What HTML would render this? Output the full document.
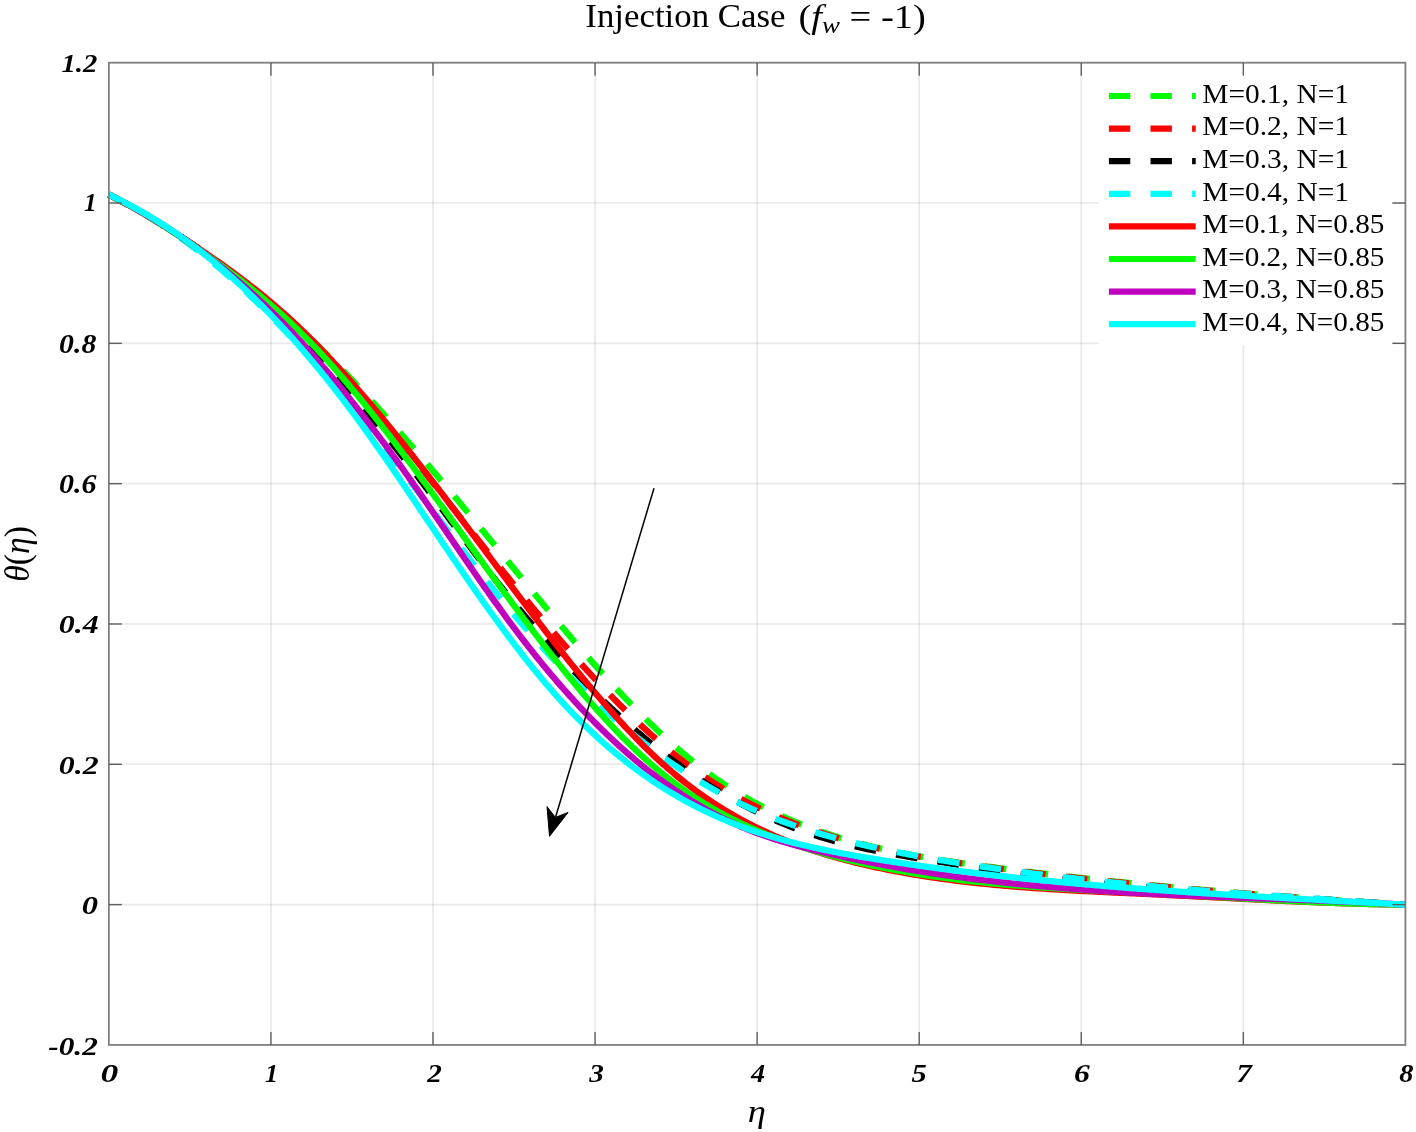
<!DOCTYPE html><html><head><meta charset="utf-8"><title>Injection Case</title><style>html,body{margin:0;padding:0;background:#fff;overflow:hidden;}svg{display:block;}.tk{font-family:"Liberation Serif",serif;font-weight:bold;font-style:italic;font-size:24px;fill:#000;}.lg{font-family:"Liberation Serif",serif;font-size:27px;fill:#000;}.ttl{font-family:"Liberation Serif",serif;font-size:33px;fill:#000;}</style></head><body>
<svg width="1416" height="1132" viewBox="0 0 1416 1132">
<rect x="0" y="0" width="1416" height="1132" fill="#fff"/>
<g id="grid" stroke="#000" stroke-opacity="0.09" stroke-width="1.6"><line x1="270.92" y1="62.70" x2="270.92" y2="1044.94"/><line x1="432.99" y1="62.70" x2="432.99" y2="1044.94"/><line x1="595.06" y1="62.70" x2="595.06" y2="1044.94"/><line x1="757.13" y1="62.70" x2="757.13" y2="1044.94"/><line x1="919.20" y1="62.70" x2="919.20" y2="1044.94"/><line x1="1081.27" y1="62.70" x2="1081.27" y2="1044.94"/><line x1="1243.34" y1="62.70" x2="1243.34" y2="1044.94"/><line x1="108.85" y1="203.02" x2="1405.41" y2="203.02"/><line x1="108.85" y1="343.34" x2="1405.41" y2="343.34"/><line x1="108.85" y1="483.66" x2="1405.41" y2="483.66"/><line x1="108.85" y1="623.98" x2="1405.41" y2="623.98"/><line x1="108.85" y1="764.30" x2="1405.41" y2="764.30"/><line x1="108.85" y1="904.62" x2="1405.41" y2="904.62"/></g>
<g id="curves"><path d="M108.85,194.60 L111.01,195.72 L113.18,196.86 L115.34,198.00 L117.51,199.15 L119.67,200.31 L121.84,201.48 L124.00,202.65 L126.17,203.84 L128.33,205.03 L130.50,206.23 L132.66,207.44 L134.82,208.66 L136.99,209.88 L139.15,211.12 L141.32,212.36 L143.48,213.61 L145.65,214.87 L147.81,216.14 L149.98,217.42 L152.14,218.70 L154.31,220.00 L156.47,221.30 L158.63,222.61 L160.80,223.93 L162.96,225.26 L165.13,226.60 L167.29,227.94 L169.46,229.30 L171.62,230.66 L173.79,232.03 L175.95,233.41 L178.12,234.80 L180.28,236.20 L182.44,237.61 L184.61,239.03 L186.77,240.45 L188.94,241.88 L191.10,243.33 L193.27,244.78 L195.43,246.24 L197.60,247.71 L199.76,249.19 L201.93,250.68 L204.09,252.17 L206.25,253.68 L208.42,255.20 L210.58,256.72 L212.75,258.26 L214.91,259.80 L217.08,261.36 L219.24,262.92 L221.41,264.50 L223.57,266.08 L225.74,267.68 L227.90,269.28 L230.06,270.90 L232.23,272.52 L234.39,274.15 L236.56,275.80 L238.72,277.45 L240.89,279.12 L243.05,280.80 L245.22,282.48 L247.38,284.18 L249.55,285.89 L251.71,287.61 L253.87,289.34 L256.04,291.08 L258.20,292.83 L260.37,294.59 L262.53,296.37 L264.70,298.15 L266.86,299.95 L269.03,301.75 L271.19,303.57 L273.36,305.40 L275.52,307.24 L277.68,309.10 L279.85,310.96 L282.01,312.84 L284.18,314.73 L286.34,316.62 L288.51,318.54 L290.67,320.46 L292.84,322.40 L295.00,324.34 L297.17,326.30 L299.33,328.27 L301.49,330.26 L303.66,332.26 L305.82,334.26 L307.99,336.29 L310.15,338.32 L312.32,340.37 L314.48,342.42 L316.65,344.50 L318.81,346.58 L320.98,348.68 L323.14,350.79 L325.30,352.91 L327.47,355.04 L329.63,357.19 L331.80,359.35 L333.96,361.51 L336.13,363.69 L338.29,365.89 L340.46,368.09 L342.62,370.30 L344.78,372.53 L346.95,374.77 L349.11,377.01 L351.28,379.27 L353.44,381.54 L355.61,383.81 L357.77,386.10 L359.94,388.40 L362.10,390.71 L364.27,393.03 L366.43,395.35 L368.59,397.69 L370.76,400.04 L372.92,402.39 L375.09,404.75 L377.25,407.13 L379.42,409.51 L381.58,411.90 L383.75,414.30 L385.91,416.70 L388.08,419.12 L390.24,421.54 L392.40,423.97 L394.57,426.41 L396.73,428.86 L398.90,431.31 L401.06,433.77 L403.23,436.24 L405.39,438.71 L407.56,441.20 L409.72,443.69 L411.89,446.18 L414.05,448.68 L416.21,451.19 L418.38,453.70 L420.54,456.23 L422.71,458.75 L424.87,461.28 L427.04,463.82 L429.20,466.36 L431.37,468.91 L433.53,471.47 L435.70,474.03 L437.86,476.59 L440.02,479.16 L442.19,481.73 L444.35,484.31 L446.52,486.89 L448.68,489.48 L450.85,492.07 L453.01,494.66 L455.18,497.26 L457.34,499.86 L459.51,502.47 L461.67,505.07 L463.83,507.69 L466.00,510.30 L468.16,512.92 L470.33,515.54 L472.49,518.16 L474.66,520.79 L476.82,523.42 L478.99,526.05 L481.15,528.68 L483.32,531.32 L485.48,533.95 L487.64,536.59 L489.81,539.23 L491.97,541.87 L494.14,544.51 L496.30,547.16 L498.47,549.80 L500.63,552.45 L502.80,555.09 L504.96,557.74 L507.13,560.39 L509.29,563.03 L511.45,565.68 L513.62,568.33 L515.78,570.97 L517.95,573.62 L520.11,576.26 L522.28,578.90 L524.44,581.54 L526.61,584.18 L528.77,586.82 L530.94,589.45 L533.10,592.08 L535.26,594.71 L537.43,597.33 L539.59,599.95 L541.76,602.57 L543.92,605.18 L546.09,607.79 L548.25,610.40 L550.42,613.00 L552.58,615.59 L554.75,618.18 L556.91,620.77 L559.07,623.35 L561.24,625.92 L563.40,628.49 L565.57,631.05 L567.73,633.60 L569.90,636.15 L572.06,638.68 L574.23,641.22 L576.39,643.74 L578.56,646.26 L580.72,648.76 L582.88,651.26 L585.05,653.76 L587.21,656.24 L589.38,658.71 L591.54,661.17 L593.71,663.63 L595.87,666.07 L598.04,668.50 L600.20,670.93 L602.37,673.34 L604.53,675.74 L606.69,678.13 L608.86,680.51 L611.02,682.88 L613.19,685.23 L615.35,687.58 L617.52,689.91 L619.68,692.23 L621.85,694.53 L624.01,696.82 L626.18,699.10 L628.34,701.37 L630.50,703.62 L632.67,705.86 L634.83,708.08 L637.00,710.29 L639.16,712.48 L641.33,714.66 L643.49,716.82 L645.66,718.97 L647.82,721.10 L649.99,723.21 L652.15,725.31 L654.31,727.39 L656.48,729.46 L658.64,731.51 L660.81,733.54 L662.97,735.55 L665.14,737.55 L667.30,739.52 L669.47,741.48 L671.63,743.42 L673.80,745.34 L675.96,747.25 L678.12,749.13 L680.29,750.99 L682.45,752.83 L684.62,754.66 L686.78,756.46 L688.95,758.24 L691.11,760.00 L693.28,761.74 L695.44,763.46 L697.61,765.16 L699.77,766.84 L701.93,768.49 L704.10,770.12 L706.26,771.73 L708.43,773.32 L710.59,774.89 L712.76,776.44 L714.92,777.97 L717.09,779.48 L719.25,780.96 L721.42,782.43 L723.58,783.88 L725.74,785.31 L727.91,786.71 L730.07,788.10 L732.24,789.47 L734.40,790.83 L736.57,792.16 L738.73,793.47 L740.90,794.77 L743.06,796.05 L745.23,797.31 L747.39,798.55 L749.55,799.77 L751.72,800.98 L753.88,802.17 L756.05,803.35 L758.21,804.50 L760.38,805.64 L762.54,806.77 L764.71,807.88 L766.87,808.97 L769.03,810.04 L771.20,811.11 L773.36,812.15 L775.53,813.18 L777.69,814.20 L779.86,815.20 L782.02,816.18 L784.19,817.15 L786.35,818.11 L788.52,819.05 L790.68,819.98 L792.84,820.90 L795.01,821.80 L797.17,822.69 L799.34,823.56 L801.50,824.43 L803.67,825.28 L805.83,826.11 L808.00,826.94 L810.16,827.75 L812.33,828.55 L814.49,829.34 L816.65,830.12 L818.82,830.89 L820.98,831.64 L823.15,832.39 L825.31,833.12 L827.48,833.84 L829.64,834.55 L831.81,835.26 L833.97,835.95 L836.14,836.63 L838.30,837.30 L840.46,837.96 L842.63,838.61 L844.79,839.25 L846.96,839.89 L849.12,840.51 L851.29,841.12 L853.45,841.73 L855.62,842.32 L857.78,842.91 L859.95,843.49 L862.11,844.05 L864.27,844.61 L866.44,845.17 L868.60,845.71 L870.77,846.25 L872.93,846.77 L875.10,847.29 L877.26,847.80 L879.43,848.31 L881.59,848.80 L883.76,849.29 L885.92,849.78 L888.08,850.25 L890.25,850.72 L892.41,851.18 L894.58,851.63 L896.74,852.08 L898.91,852.52 L901.07,852.96 L903.24,853.39 L905.40,853.81 L907.57,854.22 L909.73,854.64 L911.89,855.04 L914.06,855.44 L916.22,855.83 L918.39,856.22 L920.55,856.61 L922.72,856.98 L924.88,857.36 L927.05,857.73 L929.21,858.09 L931.38,858.45 L933.54,858.80 L935.70,859.15 L937.87,859.50 L940.03,859.84 L942.20,860.18 L944.36,860.52 L946.53,860.85 L948.69,861.17 L950.86,861.50 L953.02,861.82 L955.19,862.14 L957.35,862.45 L959.51,862.76 L961.68,863.07 L963.84,863.38 L966.01,863.68 L968.17,863.98 L970.34,864.28 L972.50,864.58 L974.67,864.87 L976.83,865.16 L979.00,865.46 L981.16,865.75 L983.32,866.03 L985.49,866.32 L987.65,866.61 L989.82,866.89 L991.98,867.17 L994.15,867.45 L996.31,867.74 L998.48,868.02 L1000.64,868.29 L1002.81,868.57 L1004.97,868.85 L1007.13,869.12 L1009.30,869.40 L1011.46,869.67 L1013.63,869.94 L1015.79,870.21 L1017.96,870.48 L1020.12,870.75 L1022.29,871.02 L1024.45,871.29 L1026.62,871.55 L1028.78,871.82 L1030.94,872.08 L1033.11,872.34 L1035.27,872.60 L1037.44,872.86 L1039.60,873.12 L1041.77,873.38 L1043.93,873.64 L1046.10,873.89 L1048.26,874.15 L1050.43,874.40 L1052.59,874.66 L1054.75,874.91 L1056.92,875.16 L1059.08,875.41 L1061.25,875.66 L1063.41,875.90 L1065.58,876.15 L1067.74,876.40 L1069.91,876.64 L1072.07,876.89 L1074.24,877.13 L1076.40,877.37 L1078.56,877.61 L1080.73,877.85 L1082.89,878.09 L1085.06,878.33 L1087.22,878.56 L1089.39,878.80 L1091.55,879.03 L1093.72,879.27 L1095.88,879.50 L1098.05,879.73 L1100.21,879.96 L1102.37,880.19 L1104.54,880.42 L1106.70,880.65 L1108.87,880.88 L1111.03,881.11 L1113.20,881.33 L1115.36,881.55 L1117.53,881.78 L1119.69,882.00 L1121.86,882.22 L1124.02,882.44 L1126.18,882.66 L1128.35,882.88 L1130.51,883.10 L1132.68,883.32 L1134.84,883.53 L1137.01,883.75 L1139.17,883.96 L1141.34,884.18 L1143.50,884.39 L1145.67,884.60 L1147.83,884.81 L1149.99,885.02 L1152.16,885.23 L1154.32,885.44 L1156.49,885.65 L1158.65,885.85 L1160.82,886.06 L1162.98,886.26 L1165.15,886.47 L1167.31,886.67 L1169.48,886.87 L1171.64,887.07 L1173.80,887.27 L1175.97,887.47 L1178.13,887.67 L1180.30,887.87 L1182.46,888.07 L1184.63,888.26 L1186.79,888.46 L1188.96,888.65 L1191.12,888.85 L1193.28,889.04 L1195.45,889.23 L1197.61,889.43 L1199.78,889.62 L1201.94,889.81 L1204.11,890.00 L1206.27,890.18 L1208.44,890.37 L1210.60,890.56 L1212.77,890.74 L1214.93,890.93 L1217.09,891.11 L1219.26,891.30 L1221.42,891.48 L1223.59,891.66 L1225.75,891.84 L1227.92,892.03 L1230.08,892.21 L1232.25,892.38 L1234.41,892.56 L1236.58,892.74 L1238.74,892.92 L1240.90,893.09 L1243.07,893.27 L1245.23,893.44 L1247.40,893.62 L1249.56,893.79 L1251.73,893.96 L1253.89,894.14 L1256.06,894.31 L1258.22,894.48 L1260.39,894.65 L1262.55,894.82 L1264.71,894.99 L1266.88,895.15 L1269.04,895.32 L1271.21,895.49 L1273.37,895.65 L1275.54,895.82 L1277.70,895.98 L1279.87,896.15 L1282.03,896.31 L1284.20,896.47 L1286.36,896.63 L1288.52,896.79 L1290.69,896.96 L1292.85,897.11 L1295.02,897.27 L1297.18,897.43 L1299.35,897.59 L1301.51,897.75 L1303.68,897.90 L1305.84,898.06 L1308.01,898.22 L1310.17,898.37 L1312.33,898.52 L1314.50,898.68 L1316.66,898.83 L1318.83,898.98 L1320.99,899.14 L1323.16,899.29 L1325.32,899.44 L1327.49,899.59 L1329.65,899.74 L1331.82,899.88 L1333.98,900.03 L1336.14,900.18 L1338.31,900.33 L1340.47,900.47 L1342.64,900.62 L1344.80,900.77 L1346.97,900.91 L1349.13,901.05 L1351.30,901.20 L1353.46,901.34 L1355.63,901.48 L1357.79,901.63 L1359.95,901.77 L1362.12,901.91 L1364.28,902.05 L1366.45,902.19 L1368.61,902.33 L1370.78,902.47 L1372.94,902.60 L1375.11,902.74 L1377.27,902.88 L1379.44,903.02 L1381.60,903.15 L1383.76,903.29 L1385.93,903.42 L1388.09,903.56 L1390.26,903.69 L1392.42,903.83 L1394.59,903.96 L1396.75,904.09 L1398.92,904.23 L1401.08,904.36 L1403.25,904.49 L1405.41,904.62" fill="none" stroke="#00ff00" stroke-width="6.3" stroke-linejoin="round" stroke-dasharray="21.7 20.3"/><path d="M108.85,194.60 L111.01,195.76 L113.18,196.92 L115.34,198.09 L117.51,199.26 L119.67,200.44 L121.84,201.62 L124.00,202.81 L126.17,204.01 L128.33,205.21 L130.50,206.42 L132.66,207.64 L134.82,208.86 L136.99,210.09 L139.15,211.32 L141.32,212.56 L143.48,213.81 L145.65,215.06 L147.81,216.33 L149.98,217.60 L152.14,218.87 L154.31,220.16 L156.47,221.45 L158.63,222.75 L160.80,224.06 L162.96,225.37 L165.13,226.70 L167.29,228.03 L169.46,229.37 L171.62,230.72 L173.79,232.07 L175.95,233.44 L178.12,234.81 L180.28,236.20 L182.44,237.59 L184.61,238.99 L186.77,240.40 L188.94,241.83 L191.10,243.26 L193.27,244.70 L195.43,246.15 L197.60,247.61 L199.76,249.08 L201.93,250.56 L204.09,252.05 L206.25,253.55 L208.42,255.06 L210.58,256.58 L212.75,258.12 L214.91,259.66 L217.08,261.22 L219.24,262.79 L221.41,264.36 L223.57,265.95 L225.74,267.55 L227.90,269.17 L230.06,270.79 L232.23,272.43 L234.39,274.08 L236.56,275.74 L238.72,277.41 L240.89,279.10 L243.05,280.79 L245.22,282.51 L247.38,284.23 L249.55,285.97 L251.71,287.72 L253.87,289.48 L256.04,291.26 L258.20,293.04 L260.37,294.85 L262.53,296.67 L264.70,298.50 L266.86,300.34 L269.03,302.20 L271.19,304.07 L273.36,305.96 L275.52,307.86 L277.68,309.78 L279.85,311.71 L282.01,313.65 L284.18,315.62 L286.34,317.59 L288.51,319.58 L290.67,321.59 L292.84,323.61 L295.00,325.65 L297.17,327.70 L299.33,329.77 L301.49,331.85 L303.66,333.95 L305.82,336.07 L307.99,338.20 L310.15,340.35 L312.32,342.52 L314.48,344.70 L316.65,346.90 L318.81,349.12 L320.98,351.35 L323.14,353.60 L325.30,355.86 L327.47,358.14 L329.63,360.43 L331.80,362.74 L333.96,365.07 L336.13,367.40 L338.29,369.76 L340.46,372.12 L342.62,374.50 L344.78,376.90 L346.95,379.30 L349.11,381.72 L351.28,384.15 L353.44,386.60 L355.61,389.06 L357.77,391.52 L359.94,394.00 L362.10,396.50 L364.27,399.00 L366.43,401.51 L368.59,404.04 L370.76,406.57 L372.92,409.12 L375.09,411.67 L377.25,414.24 L379.42,416.81 L381.58,419.39 L383.75,421.99 L385.91,424.59 L388.08,427.20 L390.24,429.81 L392.40,432.44 L394.57,435.07 L396.73,437.71 L398.90,440.36 L401.06,443.01 L403.23,445.67 L405.39,448.34 L407.56,451.01 L409.72,453.69 L411.89,456.38 L414.05,459.07 L416.21,461.76 L418.38,464.46 L420.54,467.17 L422.71,469.88 L424.87,472.59 L427.04,475.31 L429.20,478.03 L431.37,480.75 L433.53,483.48 L435.70,486.21 L437.86,488.94 L440.02,491.68 L442.19,494.42 L444.35,497.15 L446.52,499.90 L448.68,502.64 L450.85,505.38 L453.01,508.13 L455.18,510.87 L457.34,513.61 L459.51,516.36 L461.67,519.11 L463.83,521.85 L466.00,524.59 L468.16,527.34 L470.33,530.08 L472.49,532.82 L474.66,535.56 L476.82,538.30 L478.99,541.03 L481.15,543.76 L483.32,546.49 L485.48,549.22 L487.64,551.95 L489.81,554.67 L491.97,557.38 L494.14,560.10 L496.30,562.80 L498.47,565.51 L500.63,568.21 L502.80,570.91 L504.96,573.60 L507.13,576.28 L509.29,578.97 L511.45,581.64 L513.62,584.31 L515.78,586.98 L517.95,589.64 L520.11,592.29 L522.28,594.94 L524.44,597.58 L526.61,600.21 L528.77,602.84 L530.94,605.46 L533.10,608.07 L535.26,610.68 L537.43,613.28 L539.59,615.87 L541.76,618.45 L543.92,621.03 L546.09,623.60 L548.25,626.15 L550.42,628.70 L552.58,631.25 L554.75,633.78 L556.91,636.30 L559.07,638.82 L561.24,641.32 L563.40,643.82 L565.57,646.30 L567.73,648.78 L569.90,651.24 L572.06,653.69 L574.23,656.14 L576.39,658.57 L578.56,660.99 L580.72,663.40 L582.88,665.80 L585.05,668.19 L587.21,670.57 L589.38,672.93 L591.54,675.28 L593.71,677.62 L595.87,679.95 L598.04,682.27 L600.20,684.57 L602.37,686.86 L604.53,689.13 L606.69,691.40 L608.86,693.65 L611.02,695.88 L613.19,698.10 L615.35,700.31 L617.52,702.50 L619.68,704.68 L621.85,706.85 L624.01,709.00 L626.18,711.13 L628.34,713.25 L630.50,715.35 L632.67,717.44 L634.83,719.51 L637.00,721.57 L639.16,723.61 L641.33,725.63 L643.49,727.64 L645.66,729.63 L647.82,731.61 L649.99,733.56 L652.15,735.50 L654.31,737.43 L656.48,739.33 L658.64,741.22 L660.81,743.09 L662.97,744.94 L665.14,746.77 L667.30,748.58 L669.47,750.38 L671.63,752.16 L673.80,753.91 L675.96,755.65 L678.12,757.37 L680.29,759.07 L682.45,760.75 L684.62,762.41 L686.78,764.05 L688.95,765.67 L691.11,767.27 L693.28,768.84 L695.44,770.40 L697.61,771.94 L699.77,773.46 L701.93,774.96 L704.10,776.44 L706.26,777.91 L708.43,779.35 L710.59,780.77 L712.76,782.18 L714.92,783.57 L717.09,784.94 L719.25,786.29 L721.42,787.62 L723.58,788.94 L725.74,790.24 L727.91,791.52 L730.07,792.78 L732.24,794.03 L734.40,795.26 L736.57,796.48 L738.73,797.68 L740.90,798.86 L743.06,800.02 L745.23,801.17 L747.39,802.31 L749.55,803.43 L751.72,804.53 L753.88,805.62 L756.05,806.69 L758.21,807.75 L760.38,808.80 L762.54,809.83 L764.71,810.84 L766.87,811.84 L769.03,812.83 L771.20,813.81 L773.36,814.77 L775.53,815.71 L777.69,816.65 L779.86,817.57 L782.02,818.48 L784.19,819.37 L786.35,820.26 L788.52,821.13 L790.68,821.99 L792.84,822.83 L795.01,823.67 L797.17,824.49 L799.34,825.31 L801.50,826.11 L803.67,826.90 L805.83,827.68 L808.00,828.44 L810.16,829.20 L812.33,829.95 L814.49,830.69 L816.65,831.41 L818.82,832.13 L820.98,832.84 L823.15,833.54 L825.31,834.23 L827.48,834.91 L829.64,835.58 L831.81,836.24 L833.97,836.90 L836.14,837.54 L838.30,838.18 L840.46,838.80 L842.63,839.42 L844.79,840.03 L846.96,840.63 L849.12,841.23 L851.29,841.81 L853.45,842.39 L855.62,842.96 L857.78,843.53 L859.95,844.08 L862.11,844.63 L864.27,845.17 L866.44,845.70 L868.60,846.23 L870.77,846.74 L872.93,847.25 L875.10,847.76 L877.26,848.26 L879.43,848.75 L881.59,849.23 L883.76,849.71 L885.92,850.18 L888.08,850.65 L890.25,851.11 L892.41,851.56 L894.58,852.01 L896.74,852.45 L898.91,852.88 L901.07,853.31 L903.24,853.74 L905.40,854.16 L907.57,854.57 L909.73,854.98 L911.89,855.38 L914.06,855.78 L916.22,856.17 L918.39,856.56 L920.55,856.95 L922.72,857.33 L924.88,857.70 L927.05,858.07 L929.21,858.44 L931.38,858.80 L933.54,859.16 L935.70,859.51 L937.87,859.86 L940.03,860.21 L942.20,860.55 L944.36,860.89 L946.53,861.23 L948.69,861.56 L950.86,861.89 L953.02,862.21 L955.19,862.54 L957.35,862.86 L959.51,863.17 L961.68,863.49 L963.84,863.80 L966.01,864.11 L968.17,864.42 L970.34,864.72 L972.50,865.03 L974.67,865.33 L976.83,865.63 L979.00,865.92 L981.16,866.22 L983.32,866.51 L985.49,866.80 L987.65,867.10 L989.82,867.38 L991.98,867.67 L994.15,867.96 L996.31,868.24 L998.48,868.53 L1000.64,868.81 L1002.81,869.09 L1004.97,869.37 L1007.13,869.65 L1009.30,869.93 L1011.46,870.20 L1013.63,870.48 L1015.79,870.75 L1017.96,871.02 L1020.12,871.30 L1022.29,871.56 L1024.45,871.83 L1026.62,872.10 L1028.78,872.37 L1030.94,872.63 L1033.11,872.89 L1035.27,873.16 L1037.44,873.42 L1039.60,873.68 L1041.77,873.94 L1043.93,874.19 L1046.10,874.45 L1048.26,874.70 L1050.43,874.96 L1052.59,875.21 L1054.75,875.46 L1056.92,875.71 L1059.08,875.96 L1061.25,876.21 L1063.41,876.46 L1065.58,876.70 L1067.74,876.95 L1069.91,877.19 L1072.07,877.43 L1074.24,877.67 L1076.40,877.91 L1078.56,878.15 L1080.73,878.39 L1082.89,878.62 L1085.06,878.86 L1087.22,879.09 L1089.39,879.33 L1091.55,879.56 L1093.72,879.79 L1095.88,880.02 L1098.05,880.25 L1100.21,880.48 L1102.37,880.70 L1104.54,880.93 L1106.70,881.15 L1108.87,881.38 L1111.03,881.60 L1113.20,881.82 L1115.36,882.04 L1117.53,882.26 L1119.69,882.48 L1121.86,882.70 L1124.02,882.91 L1126.18,883.13 L1128.35,883.34 L1130.51,883.56 L1132.68,883.77 L1134.84,883.98 L1137.01,884.19 L1139.17,884.40 L1141.34,884.61 L1143.50,884.82 L1145.67,885.02 L1147.83,885.23 L1149.99,885.44 L1152.16,885.64 L1154.32,885.84 L1156.49,886.04 L1158.65,886.25 L1160.82,886.45 L1162.98,886.65 L1165.15,886.84 L1167.31,887.04 L1169.48,887.24 L1171.64,887.43 L1173.80,887.63 L1175.97,887.82 L1178.13,888.02 L1180.30,888.21 L1182.46,888.40 L1184.63,888.59 L1186.79,888.78 L1188.96,888.97 L1191.12,889.16 L1193.28,889.34 L1195.45,889.53 L1197.61,889.72 L1199.78,889.90 L1201.94,890.09 L1204.11,890.27 L1206.27,890.45 L1208.44,890.63 L1210.60,890.81 L1212.77,890.99 L1214.93,891.17 L1217.09,891.35 L1219.26,891.53 L1221.42,891.71 L1223.59,891.88 L1225.75,892.06 L1227.92,892.24 L1230.08,892.41 L1232.25,892.58 L1234.41,892.76 L1236.58,892.93 L1238.74,893.10 L1240.90,893.27 L1243.07,893.44 L1245.23,893.61 L1247.40,893.78 L1249.56,893.95 L1251.73,894.11 L1253.89,894.28 L1256.06,894.45 L1258.22,894.61 L1260.39,894.78 L1262.55,894.94 L1264.71,895.10 L1266.88,895.27 L1269.04,895.43 L1271.21,895.59 L1273.37,895.75 L1275.54,895.91 L1277.70,896.07 L1279.87,896.23 L1282.03,896.39 L1284.20,896.54 L1286.36,896.70 L1288.52,896.86 L1290.69,897.01 L1292.85,897.17 L1295.02,897.33 L1297.18,897.48 L1299.35,897.63 L1301.51,897.79 L1303.68,897.94 L1305.84,898.09 L1308.01,898.24 L1310.17,898.40 L1312.33,898.55 L1314.50,898.70 L1316.66,898.85 L1318.83,899.00 L1320.99,899.14 L1323.16,899.29 L1325.32,899.44 L1327.49,899.59 L1329.65,899.73 L1331.82,899.88 L1333.98,900.03 L1336.14,900.17 L1338.31,900.32 L1340.47,900.46 L1342.64,900.61 L1344.80,900.75 L1346.97,900.89 L1349.13,901.03 L1351.30,901.18 L1353.46,901.32 L1355.63,901.46 L1357.79,901.60 L1359.95,901.74 L1362.12,901.88 L1364.28,902.02 L1366.45,902.16 L1368.61,902.30 L1370.78,902.44 L1372.94,902.58 L1375.11,902.72 L1377.27,902.86 L1379.44,902.99 L1381.60,903.13 L1383.76,903.27 L1385.93,903.40 L1388.09,903.54 L1390.26,903.68 L1392.42,903.81 L1394.59,903.95 L1396.75,904.08 L1398.92,904.22 L1401.08,904.35 L1403.25,904.49 L1405.41,904.62" fill="none" stroke="#ff0000" stroke-width="6.3" stroke-linejoin="round" stroke-dasharray="21.7 20.3"/><path d="M108.85,194.60 L111.01,195.68 L113.18,196.77 L115.34,197.87 L117.51,198.99 L119.67,200.11 L121.84,201.25 L124.00,202.40 L126.17,203.56 L128.33,204.73 L130.50,205.91 L132.66,207.11 L134.82,208.31 L136.99,209.53 L139.15,210.76 L141.32,212.00 L143.48,213.26 L145.65,214.52 L147.81,215.80 L149.98,217.09 L152.14,218.39 L154.31,219.70 L156.47,221.02 L158.63,222.36 L160.80,223.71 L162.96,225.07 L165.13,226.44 L167.29,227.83 L169.46,229.23 L171.62,230.64 L173.79,232.06 L175.95,233.49 L178.12,234.94 L180.28,236.40 L182.44,237.87 L184.61,239.35 L186.77,240.85 L188.94,242.36 L191.10,243.88 L193.27,245.41 L195.43,246.96 L197.60,248.52 L199.76,250.09 L201.93,251.68 L204.09,253.27 L206.25,254.88 L208.42,256.51 L210.58,258.14 L212.75,259.79 L214.91,261.46 L217.08,263.13 L219.24,264.82 L221.41,266.52 L223.57,268.24 L225.74,269.96 L227.90,271.70 L230.06,273.46 L232.23,275.22 L234.39,277.00 L236.56,278.80 L238.72,280.61 L240.89,282.43 L243.05,284.26 L245.22,286.11 L247.38,287.97 L249.55,289.84 L251.71,291.73 L253.87,293.63 L256.04,295.55 L258.20,297.48 L260.37,299.42 L262.53,301.38 L264.70,303.35 L266.86,305.33 L269.03,307.33 L271.19,309.34 L273.36,311.37 L275.52,313.41 L277.68,315.46 L279.85,317.53 L282.01,319.61 L284.18,321.71 L286.34,323.82 L288.51,325.94 L290.67,328.08 L292.84,330.23 L295.00,332.40 L297.17,334.58 L299.33,336.78 L301.49,338.99 L303.66,341.21 L305.82,343.45 L307.99,345.71 L310.15,347.97 L312.32,350.26 L314.48,352.55 L316.65,354.86 L318.81,357.19 L320.98,359.53 L323.14,361.88 L325.30,364.25 L327.47,366.62 L329.63,369.02 L331.80,371.42 L333.96,373.84 L336.13,376.28 L338.29,378.72 L340.46,381.18 L342.62,383.65 L344.78,386.14 L346.95,388.63 L349.11,391.14 L351.28,393.66 L353.44,396.20 L355.61,398.74 L357.77,401.30 L359.94,403.87 L362.10,406.46 L364.27,409.05 L366.43,411.66 L368.59,414.27 L370.76,416.90 L372.92,419.54 L375.09,422.19 L377.25,424.85 L379.42,427.53 L381.58,430.21 L383.75,432.91 L385.91,435.61 L388.08,438.33 L390.24,441.06 L392.40,443.79 L394.57,446.54 L396.73,449.30 L398.90,452.07 L401.06,454.85 L403.23,457.63 L405.39,460.43 L407.56,463.24 L409.72,466.06 L411.89,468.88 L414.05,471.72 L416.21,474.56 L418.38,477.42 L420.54,480.28 L422.71,483.15 L424.87,486.03 L427.04,488.92 L429.20,491.82 L431.37,494.72 L433.53,497.63 L435.70,500.54 L437.86,503.46 L440.02,506.38 L442.19,509.30 L444.35,512.23 L446.52,515.15 L448.68,518.08 L450.85,521.00 L453.01,523.93 L455.18,526.85 L457.34,529.76 L459.51,532.68 L461.67,535.59 L463.83,538.49 L466.00,541.38 L468.16,544.27 L470.33,547.15 L472.49,550.02 L474.66,552.88 L476.82,555.73 L478.99,558.57 L481.15,561.40 L483.32,564.21 L485.48,567.01 L487.64,569.81 L489.81,572.59 L491.97,575.35 L494.14,578.11 L496.30,580.85 L498.47,583.59 L500.63,586.31 L502.80,589.01 L504.96,591.71 L507.13,594.39 L509.29,597.06 L511.45,599.72 L513.62,602.37 L515.78,605.01 L517.95,607.63 L520.11,610.24 L522.28,612.84 L524.44,615.42 L526.61,617.99 L528.77,620.55 L530.94,623.10 L533.10,625.64 L535.26,628.16 L537.43,630.67 L539.59,633.16 L541.76,635.65 L543.92,638.12 L546.09,640.58 L548.25,643.02 L550.42,645.45 L552.58,647.87 L554.75,650.28 L556.91,652.67 L559.07,655.05 L561.24,657.42 L563.40,659.77 L565.57,662.11 L567.73,664.44 L569.90,666.75 L572.06,669.05 L574.23,671.33 L576.39,673.61 L578.56,675.87 L580.72,678.11 L582.88,680.34 L585.05,682.56 L587.21,684.76 L589.38,686.95 L591.54,689.13 L593.71,691.29 L595.87,693.44 L598.04,695.58 L600.20,697.70 L602.37,699.80 L604.53,701.90 L606.69,703.98 L608.86,706.04 L611.02,708.09 L613.19,710.13 L615.35,712.15 L617.52,714.15 L619.68,716.15 L621.85,718.13 L624.01,720.09 L626.18,722.04 L628.34,723.97 L630.50,725.89 L632.67,727.80 L634.83,729.69 L637.00,731.57 L639.16,733.43 L641.33,735.27 L643.49,737.10 L645.66,738.92 L647.82,740.72 L649.99,742.51 L652.15,744.28 L654.31,746.04 L656.48,747.78 L658.64,749.50 L660.81,751.21 L662.97,752.91 L665.14,754.59 L667.30,756.26 L669.47,757.90 L671.63,759.54 L673.80,761.16 L675.96,762.76 L678.12,764.35 L680.29,765.92 L682.45,767.48 L684.62,769.02 L686.78,770.54 L688.95,772.05 L691.11,773.55 L693.28,775.03 L695.44,776.49 L697.61,777.94 L699.77,779.37 L701.93,780.79 L704.10,782.19 L706.26,783.58 L708.43,784.95 L710.59,786.31 L712.76,787.66 L714.92,788.99 L717.09,790.30 L719.25,791.60 L721.42,792.89 L723.58,794.16 L725.74,795.41 L727.91,796.65 L730.07,797.88 L732.24,799.09 L734.40,800.29 L736.57,801.48 L738.73,802.65 L740.90,803.80 L743.06,804.94 L745.23,806.07 L747.39,807.19 L749.55,808.29 L751.72,809.37 L753.88,810.44 L756.05,811.50 L758.21,812.55 L760.38,813.58 L762.54,814.60 L764.71,815.60 L766.87,816.59 L769.03,817.57 L771.20,818.53 L773.36,819.48 L775.53,820.42 L777.69,821.35 L779.86,822.26 L782.02,823.15 L784.19,824.04 L786.35,824.91 L788.52,825.77 L790.68,826.62 L792.84,827.45 L795.01,828.27 L797.17,829.08 L799.34,829.88 L801.50,830.66 L803.67,831.43 L805.83,832.19 L808.00,832.93 L810.16,833.67 L812.33,834.39 L814.49,835.10 L816.65,835.79 L818.82,836.48 L820.98,837.15 L823.15,837.81 L825.31,838.46 L827.48,839.10 L829.64,839.72 L831.81,840.34 L833.97,840.94 L836.14,841.54 L838.30,842.12 L840.46,842.69 L842.63,843.25 L844.79,843.81 L846.96,844.35 L849.12,844.89 L851.29,845.41 L853.45,845.93 L855.62,846.44 L857.78,846.94 L859.95,847.43 L862.11,847.91 L864.27,848.38 L866.44,848.85 L868.60,849.31 L870.77,849.77 L872.93,850.21 L875.10,850.65 L877.26,851.09 L879.43,851.51 L881.59,851.93 L883.76,852.35 L885.92,852.76 L888.08,853.16 L890.25,853.56 L892.41,853.96 L894.58,854.35 L896.74,854.73 L898.91,855.11 L901.07,855.49 L903.24,855.86 L905.40,856.23 L907.57,856.60 L909.73,856.96 L911.89,857.32 L914.06,857.68 L916.22,858.03 L918.39,858.38 L920.55,858.73 L922.72,859.08 L924.88,859.43 L927.05,859.77 L929.21,860.11 L931.38,860.46 L933.54,860.80 L935.70,861.14 L937.87,861.48 L940.03,861.82 L942.20,862.16 L944.36,862.50 L946.53,862.85 L948.69,863.19 L950.86,863.53 L953.02,863.88 L955.19,864.22 L957.35,864.56 L959.51,864.91 L961.68,865.25 L963.84,865.60 L966.01,865.94 L968.17,866.29 L970.34,866.63 L972.50,866.97 L974.67,867.31 L976.83,867.65 L979.00,867.99 L981.16,868.32 L983.32,868.66 L985.49,868.99 L987.65,869.32 L989.82,869.64 L991.98,869.97 L994.15,870.29 L996.31,870.61 L998.48,870.92 L1000.64,871.24 L1002.81,871.55 L1004.97,871.86 L1007.13,872.17 L1009.30,872.47 L1011.46,872.77 L1013.63,873.07 L1015.79,873.37 L1017.96,873.66 L1020.12,873.95 L1022.29,874.24 L1024.45,874.53 L1026.62,874.82 L1028.78,875.10 L1030.94,875.38 L1033.11,875.66 L1035.27,875.94 L1037.44,876.21 L1039.60,876.48 L1041.77,876.75 L1043.93,877.02 L1046.10,877.29 L1048.26,877.55 L1050.43,877.81 L1052.59,878.07 L1054.75,878.33 L1056.92,878.58 L1059.08,878.84 L1061.25,879.09 L1063.41,879.34 L1065.58,879.59 L1067.74,879.83 L1069.91,880.07 L1072.07,880.32 L1074.24,880.56 L1076.40,880.79 L1078.56,881.03 L1080.73,881.26 L1082.89,881.49 L1085.06,881.72 L1087.22,881.95 L1089.39,882.18 L1091.55,882.40 L1093.72,882.63 L1095.88,882.85 L1098.05,883.07 L1100.21,883.29 L1102.37,883.50 L1104.54,883.72 L1106.70,883.93 L1108.87,884.14 L1111.03,884.35 L1113.20,884.56 L1115.36,884.76 L1117.53,884.97 L1119.69,885.17 L1121.86,885.37 L1124.02,885.57 L1126.18,885.77 L1128.35,885.97 L1130.51,886.16 L1132.68,886.36 L1134.84,886.55 L1137.01,886.74 L1139.17,886.93 L1141.34,887.12 L1143.50,887.31 L1145.67,887.49 L1147.83,887.68 L1149.99,887.86 L1152.16,888.04 L1154.32,888.22 L1156.49,888.40 L1158.65,888.58 L1160.82,888.75 L1162.98,888.93 L1165.15,889.10 L1167.31,889.28 L1169.48,889.45 L1171.64,889.62 L1173.80,889.79 L1175.97,889.95 L1178.13,890.12 L1180.30,890.29 L1182.46,890.45 L1184.63,890.62 L1186.79,890.78 L1188.96,890.94 L1191.12,891.10 L1193.28,891.26 L1195.45,891.42 L1197.61,891.58 L1199.78,891.73 L1201.94,891.89 L1204.11,892.04 L1206.27,892.20 L1208.44,892.35 L1210.60,892.50 L1212.77,892.65 L1214.93,892.80 L1217.09,892.95 L1219.26,893.10 L1221.42,893.25 L1223.59,893.39 L1225.75,893.54 L1227.92,893.69 L1230.08,893.83 L1232.25,893.97 L1234.41,894.12 L1236.58,894.26 L1238.74,894.40 L1240.90,894.54 L1243.07,894.68 L1245.23,894.82 L1247.40,894.96 L1249.56,895.10 L1251.73,895.24 L1253.89,895.38 L1256.06,895.52 L1258.22,895.65 L1260.39,895.79 L1262.55,895.92 L1264.71,896.06 L1266.88,896.19 L1269.04,896.33 L1271.21,896.46 L1273.37,896.60 L1275.54,896.73 L1277.70,896.86 L1279.87,896.99 L1282.03,897.13 L1284.20,897.26 L1286.36,897.39 L1288.52,897.52 L1290.69,897.65 L1292.85,897.78 L1295.02,897.91 L1297.18,898.04 L1299.35,898.17 L1301.51,898.30 L1303.68,898.43 L1305.84,898.56 L1308.01,898.69 L1310.17,898.82 L1312.33,898.95 L1314.50,899.08 L1316.66,899.20 L1318.83,899.33 L1320.99,899.46 L1323.16,899.59 L1325.32,899.72 L1327.49,899.85 L1329.65,899.98 L1331.82,900.11 L1333.98,900.23 L1336.14,900.36 L1338.31,900.49 L1340.47,900.62 L1342.64,900.75 L1344.80,900.88 L1346.97,901.01 L1349.13,901.14 L1351.30,901.27 L1353.46,901.40 L1355.63,901.53 L1357.79,901.66 L1359.95,901.79 L1362.12,901.92 L1364.28,902.05 L1366.45,902.18 L1368.61,902.32 L1370.78,902.45 L1372.94,902.58 L1375.11,902.71 L1377.27,902.85 L1379.44,902.98 L1381.60,903.11 L1383.76,903.25 L1385.93,903.38 L1388.09,903.52 L1390.26,903.65 L1392.42,903.79 L1394.59,903.93 L1396.75,904.07 L1398.92,904.20 L1401.08,904.34 L1403.25,904.48 L1405.41,904.62" fill="none" stroke="#000000" stroke-width="6.3" stroke-linejoin="round" stroke-dasharray="21.7 20.3"/><path d="M108.85,194.60 L111.01,195.66 L113.18,196.74 L115.34,197.83 L117.51,198.94 L119.67,200.06 L121.84,201.19 L124.00,202.35 L126.17,203.51 L128.33,204.69 L130.50,205.89 L132.66,207.10 L134.82,208.32 L136.99,209.56 L139.15,210.82 L141.32,212.09 L143.48,213.37 L145.65,214.67 L147.81,215.99 L149.98,217.32 L152.14,218.66 L154.31,220.02 L156.47,221.40 L158.63,222.79 L160.80,224.20 L162.96,225.62 L165.13,227.05 L167.29,228.50 L169.46,229.97 L171.62,231.45 L173.79,232.95 L175.95,234.46 L178.12,235.99 L180.28,237.54 L182.44,239.09 L184.61,240.67 L186.77,242.26 L188.94,243.86 L191.10,245.48 L193.27,247.12 L195.43,248.77 L197.60,250.44 L199.76,252.12 L201.93,253.82 L204.09,255.53 L206.25,257.26 L208.42,259.01 L210.58,260.77 L212.75,262.54 L214.91,264.33 L217.08,266.14 L219.24,267.96 L221.41,269.80 L223.57,271.66 L225.74,273.52 L227.90,275.41 L230.06,277.31 L232.23,279.23 L234.39,281.16 L236.56,283.10 L238.72,285.07 L240.89,287.05 L243.05,289.04 L245.22,291.05 L247.38,293.07 L249.55,295.11 L251.71,297.17 L253.87,299.24 L256.04,301.32 L258.20,303.42 L260.37,305.54 L262.53,307.67 L264.70,309.81 L266.86,311.97 L269.03,314.15 L271.19,316.34 L273.36,318.54 L275.52,320.76 L277.68,322.99 L279.85,325.24 L282.01,327.50 L284.18,329.77 L286.34,332.06 L288.51,334.37 L290.67,336.68 L292.84,339.01 L295.00,341.36 L297.17,343.72 L299.33,346.09 L301.49,348.47 L303.66,350.87 L305.82,353.28 L307.99,355.71 L310.15,358.14 L312.32,360.59 L314.48,363.06 L316.65,365.53 L318.81,368.01 L320.98,370.51 L323.14,373.02 L325.30,375.54 L327.47,378.07 L329.63,380.62 L331.80,383.17 L333.96,385.73 L336.13,388.31 L338.29,390.89 L340.46,393.49 L342.62,396.09 L344.78,398.71 L346.95,401.33 L349.11,403.96 L351.28,406.61 L353.44,409.26 L355.61,411.92 L357.77,414.59 L359.94,417.26 L362.10,419.95 L364.27,422.64 L366.43,425.35 L368.59,428.06 L370.76,430.77 L372.92,433.50 L375.09,436.23 L377.25,438.97 L379.42,441.71 L381.58,444.46 L383.75,447.22 L385.91,449.99 L388.08,452.76 L390.24,455.53 L392.40,458.32 L394.57,461.10 L396.73,463.90 L398.90,466.70 L401.06,469.50 L403.23,472.31 L405.39,475.12 L407.56,477.94 L409.72,480.76 L411.89,483.58 L414.05,486.41 L416.21,489.25 L418.38,492.08 L420.54,494.92 L422.71,497.76 L424.87,500.60 L427.04,503.45 L429.20,506.30 L431.37,509.14 L433.53,511.99 L435.70,514.84 L437.86,517.68 L440.02,520.53 L442.19,523.37 L444.35,526.22 L446.52,529.06 L448.68,531.90 L450.85,534.74 L453.01,537.57 L455.18,540.40 L457.34,543.23 L459.51,546.05 L461.67,548.87 L463.83,551.69 L466.00,554.49 L468.16,557.30 L470.33,560.09 L472.49,562.88 L474.66,565.67 L476.82,568.44 L478.99,571.21 L481.15,573.97 L483.32,576.73 L485.48,579.47 L487.64,582.21 L489.81,584.93 L491.97,587.65 L494.14,590.35 L496.30,593.05 L498.47,595.73 L500.63,598.40 L502.80,601.07 L504.96,603.71 L507.13,606.35 L509.29,608.98 L511.45,611.59 L513.62,614.18 L515.78,616.77 L517.95,619.33 L520.11,621.89 L522.28,624.43 L524.44,626.95 L526.61,629.46 L528.77,631.95 L530.94,634.43 L533.10,636.89 L535.26,639.34 L537.43,641.77 L539.59,644.19 L541.76,646.59 L543.92,648.98 L546.09,651.35 L548.25,653.70 L550.42,656.04 L552.58,658.37 L554.75,660.68 L556.91,662.98 L559.07,665.26 L561.24,667.52 L563.40,669.77 L565.57,672.01 L567.73,674.23 L569.90,676.44 L572.06,678.63 L574.23,680.80 L576.39,682.96 L578.56,685.11 L580.72,687.24 L582.88,689.35 L585.05,691.45 L587.21,693.54 L589.38,695.61 L591.54,697.66 L593.71,699.70 L595.87,701.73 L598.04,703.74 L600.20,705.73 L602.37,707.71 L604.53,709.68 L606.69,711.63 L608.86,713.56 L611.02,715.48 L613.19,717.39 L615.35,719.28 L617.52,721.16 L619.68,723.02 L621.85,724.86 L624.01,726.70 L626.18,728.51 L628.34,730.31 L630.50,732.10 L632.67,733.87 L634.83,735.63 L637.00,737.37 L639.16,739.10 L641.33,740.81 L643.49,742.51 L645.66,744.19 L647.82,745.86 L649.99,747.51 L652.15,749.15 L654.31,750.78 L656.48,752.39 L658.64,753.98 L660.81,755.56 L662.97,757.12 L665.14,758.67 L667.30,760.21 L669.47,761.73 L671.63,763.24 L673.80,764.73 L675.96,766.21 L678.12,767.67 L680.29,769.11 L682.45,770.55 L684.62,771.97 L686.78,773.37 L688.95,774.76 L691.11,776.13 L693.28,777.49 L695.44,778.84 L697.61,780.17 L699.77,781.48 L701.93,782.78 L704.10,784.07 L706.26,785.34 L708.43,786.60 L710.59,787.84 L712.76,789.07 L714.92,790.29 L717.09,791.48 L719.25,792.67 L721.42,793.84 L723.58,795.00 L725.74,796.14 L727.91,797.27 L730.07,798.38 L732.24,799.48 L734.40,800.57 L736.57,801.64 L738.73,802.70 L740.90,803.75 L743.06,804.78 L745.23,805.80 L747.39,806.80 L749.55,807.80 L751.72,808.78 L753.88,809.75 L756.05,810.70 L758.21,811.64 L760.38,812.57 L762.54,813.49 L764.71,814.40 L766.87,815.29 L769.03,816.17 L771.20,817.04 L773.36,817.90 L775.53,818.74 L777.69,819.58 L779.86,820.40 L782.02,821.21 L784.19,822.01 L786.35,822.80 L788.52,823.57 L790.68,824.34 L792.84,825.10 L795.01,825.84 L797.17,826.58 L799.34,827.30 L801.50,828.01 L803.67,828.72 L805.83,829.41 L808.00,830.09 L810.16,830.77 L812.33,831.43 L814.49,832.09 L816.65,832.74 L818.82,833.38 L820.98,834.01 L823.15,834.63 L825.31,835.24 L827.48,835.85 L829.64,836.45 L831.81,837.04 L833.97,837.62 L836.14,838.20 L838.30,838.77 L840.46,839.33 L842.63,839.88 L844.79,840.43 L846.96,840.98 L849.12,841.51 L851.29,842.04 L853.45,842.57 L855.62,843.09 L857.78,843.60 L859.95,844.11 L862.11,844.62 L864.27,845.11 L866.44,845.61 L868.60,846.10 L870.77,846.58 L872.93,847.07 L875.10,847.54 L877.26,848.01 L879.43,848.48 L881.59,848.95 L883.76,849.40 L885.92,849.86 L888.08,850.31 L890.25,850.76 L892.41,851.20 L894.58,851.64 L896.74,852.08 L898.91,852.51 L901.07,852.93 L903.24,853.36 L905.40,853.78 L907.57,854.19 L909.73,854.61 L911.89,855.02 L914.06,855.42 L916.22,855.82 L918.39,856.22 L920.55,856.62 L922.72,857.01 L924.88,857.40 L927.05,857.78 L929.21,858.16 L931.38,858.54 L933.54,858.92 L935.70,859.29 L937.87,859.66 L940.03,860.03 L942.20,860.39 L944.36,860.75 L946.53,861.11 L948.69,861.46 L950.86,861.82 L953.02,862.16 L955.19,862.51 L957.35,862.86 L959.51,863.20 L961.68,863.54 L963.84,863.87 L966.01,864.21 L968.17,864.54 L970.34,864.87 L972.50,865.19 L974.67,865.52 L976.83,865.84 L979.00,866.16 L981.16,866.48 L983.32,866.79 L985.49,867.11 L987.65,867.42 L989.82,867.73 L991.98,868.04 L994.15,868.34 L996.31,868.65 L998.48,868.95 L1000.64,869.25 L1002.81,869.55 L1004.97,869.85 L1007.13,870.14 L1009.30,870.43 L1011.46,870.72 L1013.63,871.01 L1015.79,871.30 L1017.96,871.59 L1020.12,871.87 L1022.29,872.15 L1024.45,872.43 L1026.62,872.71 L1028.78,872.99 L1030.94,873.26 L1033.11,873.54 L1035.27,873.81 L1037.44,874.08 L1039.60,874.35 L1041.77,874.61 L1043.93,874.88 L1046.10,875.14 L1048.26,875.40 L1050.43,875.66 L1052.59,875.92 L1054.75,876.18 L1056.92,876.43 L1059.08,876.69 L1061.25,876.94 L1063.41,877.19 L1065.58,877.44 L1067.74,877.68 L1069.91,877.93 L1072.07,878.17 L1074.24,878.42 L1076.40,878.66 L1078.56,878.90 L1080.73,879.14 L1082.89,879.37 L1085.06,879.61 L1087.22,879.84 L1089.39,880.07 L1091.55,880.31 L1093.72,880.54 L1095.88,880.76 L1098.05,880.99 L1100.21,881.22 L1102.37,881.44 L1104.54,881.66 L1106.70,881.88 L1108.87,882.10 L1111.03,882.32 L1113.20,882.54 L1115.36,882.76 L1117.53,882.97 L1119.69,883.18 L1121.86,883.40 L1124.02,883.61 L1126.18,883.82 L1128.35,884.03 L1130.51,884.23 L1132.68,884.44 L1134.84,884.64 L1137.01,884.85 L1139.17,885.05 L1141.34,885.25 L1143.50,885.45 L1145.67,885.65 L1147.83,885.85 L1149.99,886.05 L1152.16,886.24 L1154.32,886.44 L1156.49,886.63 L1158.65,886.82 L1160.82,887.02 L1162.98,887.21 L1165.15,887.40 L1167.31,887.58 L1169.48,887.77 L1171.64,887.96 L1173.80,888.14 L1175.97,888.33 L1178.13,888.51 L1180.30,888.69 L1182.46,888.87 L1184.63,889.06 L1186.79,889.23 L1188.96,889.41 L1191.12,889.59 L1193.28,889.77 L1195.45,889.94 L1197.61,890.12 L1199.78,890.29 L1201.94,890.47 L1204.11,890.64 L1206.27,890.81 L1208.44,890.98 L1210.60,891.15 L1212.77,891.32 L1214.93,891.49 L1217.09,891.66 L1219.26,891.83 L1221.42,891.99 L1223.59,892.16 L1225.75,892.32 L1227.92,892.49 L1230.08,892.65 L1232.25,892.81 L1234.41,892.98 L1236.58,893.14 L1238.74,893.30 L1240.90,893.46 L1243.07,893.62 L1245.23,893.78 L1247.40,893.94 L1249.56,894.09 L1251.73,894.25 L1253.89,894.41 L1256.06,894.56 L1258.22,894.72 L1260.39,894.88 L1262.55,895.03 L1264.71,895.18 L1266.88,895.34 L1269.04,895.49 L1271.21,895.64 L1273.37,895.79 L1275.54,895.95 L1277.70,896.10 L1279.87,896.25 L1282.03,896.40 L1284.20,896.55 L1286.36,896.70 L1288.52,896.85 L1290.69,896.99 L1292.85,897.14 L1295.02,897.29 L1297.18,897.44 L1299.35,897.59 L1301.51,897.73 L1303.68,897.88 L1305.84,898.03 L1308.01,898.17 L1310.17,898.32 L1312.33,898.46 L1314.50,898.61 L1316.66,898.75 L1318.83,898.90 L1320.99,899.04 L1323.16,899.19 L1325.32,899.33 L1327.49,899.47 L1329.65,899.62 L1331.82,899.76 L1333.98,899.90 L1336.14,900.05 L1338.31,900.19 L1340.47,900.33 L1342.64,900.48 L1344.80,900.62 L1346.97,900.76 L1349.13,900.90 L1351.30,901.05 L1353.46,901.19 L1355.63,901.33 L1357.79,901.47 L1359.95,901.62 L1362.12,901.76 L1364.28,901.90 L1366.45,902.04 L1368.61,902.19 L1370.78,902.33 L1372.94,902.47 L1375.11,902.61 L1377.27,902.76 L1379.44,902.90 L1381.60,903.04 L1383.76,903.18 L1385.93,903.33 L1388.09,903.47 L1390.26,903.61 L1392.42,903.76 L1394.59,903.90 L1396.75,904.04 L1398.92,904.19 L1401.08,904.33 L1403.25,904.48 L1405.41,904.62" fill="none" stroke="#00ffff" stroke-width="6.3" stroke-linejoin="round" stroke-dasharray="21.7 20.3"/><path d="M108.85,194.60 L111.01,195.68 L113.18,196.77 L115.34,197.88 L117.51,199.01 L119.67,200.14 L121.84,201.29 L124.00,202.45 L126.17,203.63 L128.33,204.82 L130.50,206.01 L132.66,207.23 L134.82,208.45 L136.99,209.68 L139.15,210.93 L141.32,212.18 L143.48,213.45 L145.65,214.73 L147.81,216.01 L149.98,217.31 L152.14,218.61 L154.31,219.93 L156.47,221.25 L158.63,222.59 L160.80,223.93 L162.96,225.28 L165.13,226.63 L167.29,228.00 L169.46,229.37 L171.62,230.75 L173.79,232.13 L175.95,233.52 L178.12,234.92 L180.28,236.33 L182.44,237.74 L184.61,239.15 L186.77,240.57 L188.94,242.00 L191.10,243.43 L193.27,244.86 L195.43,246.30 L197.60,247.75 L199.76,249.20 L201.93,250.66 L204.09,252.13 L206.25,253.60 L208.42,255.08 L210.58,256.57 L212.75,258.06 L214.91,259.57 L217.08,261.08 L219.24,262.60 L221.41,264.13 L223.57,265.67 L225.74,267.22 L227.90,268.77 L230.06,270.34 L232.23,271.92 L234.39,273.51 L236.56,275.11 L238.72,276.72 L240.89,278.35 L243.05,279.98 L245.22,281.63 L247.38,283.29 L249.55,284.97 L251.71,286.65 L253.87,288.35 L256.04,290.07 L258.20,291.79 L260.37,293.54 L262.53,295.29 L264.70,297.06 L266.86,298.85 L269.03,300.65 L271.19,302.47 L273.36,304.30 L275.52,306.15 L277.68,308.02 L279.85,309.90 L282.01,311.81 L284.18,313.72 L286.34,315.66 L288.51,317.61 L290.67,319.59 L292.84,321.58 L295.00,323.59 L297.17,325.62 L299.33,327.67 L301.49,329.73 L303.66,331.82 L305.82,333.92 L307.99,336.04 L310.15,338.18 L312.32,340.33 L314.48,342.51 L316.65,344.70 L318.81,346.90 L320.98,349.13 L323.14,351.37 L325.30,353.62 L327.47,355.89 L329.63,358.18 L331.80,360.48 L333.96,362.80 L336.13,365.14 L338.29,367.48 L340.46,369.85 L342.62,372.23 L344.78,374.62 L346.95,377.03 L349.11,379.45 L351.28,381.88 L353.44,384.33 L355.61,386.79 L357.77,389.26 L359.94,391.75 L362.10,394.25 L364.27,396.77 L366.43,399.29 L368.59,401.83 L370.76,404.38 L372.92,406.94 L375.09,409.51 L377.25,412.10 L379.42,414.69 L381.58,417.30 L383.75,419.92 L385.91,422.54 L388.08,425.18 L390.24,427.83 L392.40,430.49 L394.57,433.16 L396.73,435.83 L398.90,438.52 L401.06,441.22 L403.23,443.92 L405.39,446.64 L407.56,449.36 L409.72,452.09 L411.89,454.83 L414.05,457.57 L416.21,460.33 L418.38,463.09 L420.54,465.86 L422.71,468.64 L424.87,471.42 L427.04,474.21 L429.20,477.01 L431.37,479.81 L433.53,482.62 L435.70,485.44 L437.86,488.26 L440.02,491.08 L442.19,493.92 L444.35,496.75 L446.52,499.60 L448.68,502.44 L450.85,505.29 L453.01,508.15 L455.18,511.01 L457.34,513.87 L459.51,516.74 L461.67,519.61 L463.83,522.49 L466.00,525.36 L468.16,528.24 L470.33,531.13 L472.49,534.01 L474.66,536.90 L476.82,539.79 L478.99,542.68 L481.15,545.58 L483.32,548.47 L485.48,551.37 L487.64,554.26 L489.81,557.16 L491.97,560.06 L494.14,562.96 L496.30,565.86 L498.47,568.76 L500.63,571.66 L502.80,574.56 L504.96,577.45 L507.13,580.35 L509.29,583.24 L511.45,586.13 L513.62,589.02 L515.78,591.90 L517.95,594.78 L520.11,597.66 L522.28,600.53 L524.44,603.40 L526.61,606.27 L528.77,609.13 L530.94,611.99 L533.10,614.84 L535.26,617.68 L537.43,620.52 L539.59,623.35 L541.76,626.18 L543.92,629.00 L546.09,631.81 L548.25,634.61 L550.42,637.41 L552.58,640.19 L554.75,642.97 L556.91,645.74 L559.07,648.50 L561.24,651.26 L563.40,654.00 L565.57,656.73 L567.73,659.45 L569.90,662.16 L572.06,664.86 L574.23,667.55 L576.39,670.22 L578.56,672.89 L580.72,675.54 L582.88,678.18 L585.05,680.80 L587.21,683.42 L589.38,686.02 L591.54,688.60 L593.71,691.17 L595.87,693.73 L598.04,696.27 L600.20,698.80 L602.37,701.31 L604.53,703.80 L606.69,706.28 L608.86,708.74 L611.02,711.19 L613.19,713.62 L615.35,716.03 L617.52,718.42 L619.68,720.80 L621.85,723.15 L624.01,725.49 L626.18,727.81 L628.34,730.11 L630.50,732.39 L632.67,734.65 L634.83,736.90 L637.00,739.12 L639.16,741.31 L641.33,743.49 L643.49,745.65 L645.66,747.78 L647.82,749.90 L649.99,751.99 L652.15,754.05 L654.31,756.10 L656.48,758.12 L658.64,760.12 L660.81,762.09 L662.97,764.04 L665.14,765.96 L667.30,767.86 L669.47,769.74 L671.63,771.59 L673.80,773.42 L675.96,775.22 L678.12,777.01 L680.29,778.76 L682.45,780.50 L684.62,782.21 L686.78,783.90 L688.95,785.57 L691.11,787.21 L693.28,788.84 L695.44,790.44 L697.61,792.02 L699.77,793.58 L701.93,795.12 L704.10,796.63 L706.26,798.13 L708.43,799.61 L710.59,801.06 L712.76,802.50 L714.92,803.91 L717.09,805.31 L719.25,806.68 L721.42,808.04 L723.58,809.38 L725.74,810.70 L727.91,812.00 L730.07,813.28 L732.24,814.54 L734.40,815.79 L736.57,817.01 L738.73,818.22 L740.90,819.41 L743.06,820.59 L745.23,821.75 L747.39,822.89 L749.55,824.01 L751.72,825.12 L753.88,826.21 L756.05,827.29 L758.21,828.35 L760.38,829.39 L762.54,830.42 L764.71,831.43 L766.87,832.43 L769.03,833.41 L771.20,834.38 L773.36,835.33 L775.53,836.27 L777.69,837.20 L779.86,838.11 L782.02,839.01 L784.19,839.89 L786.35,840.76 L788.52,841.62 L790.68,842.47 L792.84,843.30 L795.01,844.12 L797.17,844.93 L799.34,845.72 L801.50,846.51 L803.67,847.28 L805.83,848.04 L808.00,848.79 L810.16,849.52 L812.33,850.25 L814.49,850.96 L816.65,851.67 L818.82,852.36 L820.98,853.04 L823.15,853.71 L825.31,854.37 L827.48,855.02 L829.64,855.67 L831.81,856.30 L833.97,856.92 L836.14,857.53 L838.30,858.13 L840.46,858.73 L842.63,859.31 L844.79,859.89 L846.96,860.45 L849.12,861.01 L851.29,861.56 L853.45,862.10 L855.62,862.64 L857.78,863.16 L859.95,863.68 L862.11,864.19 L864.27,864.70 L866.44,865.19 L868.60,865.68 L870.77,866.16 L872.93,866.64 L875.10,867.11 L877.26,867.57 L879.43,868.03 L881.59,868.48 L883.76,868.92 L885.92,869.36 L888.08,869.79 L890.25,870.22 L892.41,870.64 L894.58,871.05 L896.74,871.46 L898.91,871.86 L901.07,872.26 L903.24,872.65 L905.40,873.04 L907.57,873.42 L909.73,873.80 L911.89,874.17 L914.06,874.53 L916.22,874.89 L918.39,875.25 L920.55,875.60 L922.72,875.94 L924.88,876.28 L927.05,876.62 L929.21,876.95 L931.38,877.27 L933.54,877.59 L935.70,877.91 L937.87,878.22 L940.03,878.52 L942.20,878.82 L944.36,879.12 L946.53,879.41 L948.69,879.70 L950.86,879.98 L953.02,880.26 L955.19,880.54 L957.35,880.81 L959.51,881.07 L961.68,881.33 L963.84,881.59 L966.01,881.85 L968.17,882.10 L970.34,882.34 L972.50,882.58 L974.67,882.82 L976.83,883.06 L979.00,883.29 L981.16,883.51 L983.32,883.74 L985.49,883.96 L987.65,884.17 L989.82,884.39 L991.98,884.60 L994.15,884.80 L996.31,885.00 L998.48,885.20 L1000.64,885.40 L1002.81,885.59 L1004.97,885.78 L1007.13,885.97 L1009.30,886.15 L1011.46,886.34 L1013.63,886.51 L1015.79,886.69 L1017.96,886.86 L1020.12,887.03 L1022.29,887.20 L1024.45,887.36 L1026.62,887.52 L1028.78,887.68 L1030.94,887.84 L1033.11,888.00 L1035.27,888.15 L1037.44,888.30 L1039.60,888.44 L1041.77,888.59 L1043.93,888.73 L1046.10,888.87 L1048.26,889.01 L1050.43,889.15 L1052.59,889.28 L1054.75,889.42 L1056.92,889.55 L1059.08,889.68 L1061.25,889.80 L1063.41,889.93 L1065.58,890.05 L1067.74,890.18 L1069.91,890.30 L1072.07,890.42 L1074.24,890.54 L1076.40,890.65 L1078.56,890.77 L1080.73,890.88 L1082.89,891.00 L1085.06,891.11 L1087.22,891.22 L1089.39,891.33 L1091.55,891.44 L1093.72,891.54 L1095.88,891.65 L1098.05,891.76 L1100.21,891.86 L1102.37,891.96 L1104.54,892.07 L1106.70,892.17 L1108.87,892.27 L1111.03,892.37 L1113.20,892.48 L1115.36,892.58 L1117.53,892.68 L1119.69,892.78 L1121.86,892.88 L1124.02,892.97 L1126.18,893.07 L1128.35,893.17 L1130.51,893.27 L1132.68,893.37 L1134.84,893.47 L1137.01,893.57 L1139.17,893.67 L1141.34,893.77 L1143.50,893.87 L1145.67,893.97 L1147.83,894.07 L1149.99,894.17 L1152.16,894.27 L1154.32,894.37 L1156.49,894.47 L1158.65,894.57 L1160.82,894.68 L1162.98,894.78 L1165.15,894.88 L1167.31,894.99 L1169.48,895.10 L1171.64,895.20 L1173.80,895.31 L1175.97,895.42 L1178.13,895.52 L1180.30,895.63 L1182.46,895.74 L1184.63,895.85 L1186.79,895.96 L1188.96,896.07 L1191.12,896.18 L1193.28,896.29 L1195.45,896.40 L1197.61,896.51 L1199.78,896.62 L1201.94,896.74 L1204.11,896.85 L1206.27,896.96 L1208.44,897.07 L1210.60,897.18 L1212.77,897.30 L1214.93,897.41 L1217.09,897.52 L1219.26,897.63 L1221.42,897.75 L1223.59,897.86 L1225.75,897.97 L1227.92,898.08 L1230.08,898.19 L1232.25,898.31 L1234.41,898.42 L1236.58,898.53 L1238.74,898.64 L1240.90,898.75 L1243.07,898.86 L1245.23,898.98 L1247.40,899.09 L1249.56,899.20 L1251.73,899.31 L1253.89,899.42 L1256.06,899.52 L1258.22,899.63 L1260.39,899.74 L1262.55,899.85 L1264.71,899.96 L1266.88,900.06 L1269.04,900.17 L1271.21,900.27 L1273.37,900.38 L1275.54,900.48 L1277.70,900.59 L1279.87,900.69 L1282.03,900.79 L1284.20,900.89 L1286.36,900.99 L1288.52,901.09 L1290.69,901.19 L1292.85,901.29 L1295.02,901.39 L1297.18,901.48 L1299.35,901.58 L1301.51,901.67 L1303.68,901.77 L1305.84,901.86 L1308.01,901.95 L1310.17,902.04 L1312.33,902.13 L1314.50,902.22 L1316.66,902.31 L1318.83,902.39 L1320.99,902.48 L1323.16,902.56 L1325.32,902.65 L1327.49,902.73 L1329.65,902.81 L1331.82,902.89 L1333.98,902.96 L1336.14,903.04 L1338.31,903.11 L1340.47,903.19 L1342.64,903.26 L1344.80,903.33 L1346.97,903.40 L1349.13,903.47 L1351.30,903.53 L1353.46,903.60 L1355.63,903.66 L1357.79,903.72 L1359.95,903.78 L1362.12,903.84 L1364.28,903.90 L1366.45,903.95 L1368.61,904.00 L1370.78,904.06 L1372.94,904.11 L1375.11,904.15 L1377.27,904.20 L1379.44,904.24 L1381.60,904.29 L1383.76,904.33 L1385.93,904.36 L1388.09,904.40 L1390.26,904.44 L1392.42,904.47 L1394.59,904.50 L1396.75,904.53 L1398.92,904.55 L1401.08,904.58 L1403.25,904.60 L1405.41,904.62" fill="none" stroke="#ff0000" stroke-width="6.3" stroke-linejoin="round"/><path d="M108.85,194.60 L111.01,195.66 L113.18,196.74 L115.34,197.84 L117.51,198.95 L119.67,200.08 L121.84,201.22 L124.00,202.38 L126.17,203.56 L128.33,204.75 L130.50,205.96 L132.66,207.18 L134.82,208.41 L136.99,209.66 L139.15,210.92 L141.32,212.19 L143.48,213.47 L145.65,214.77 L147.81,216.08 L149.98,217.40 L152.14,218.74 L154.31,220.08 L156.47,221.43 L158.63,222.80 L160.80,224.17 L162.96,225.55 L165.13,226.94 L167.29,228.34 L169.46,229.75 L171.62,231.17 L173.79,232.60 L175.95,234.03 L178.12,235.47 L180.28,236.91 L182.44,238.37 L184.61,239.82 L186.77,241.29 L188.94,242.76 L191.10,244.23 L193.27,245.71 L195.43,247.20 L197.60,248.69 L199.76,250.19 L201.93,251.70 L204.09,253.21 L206.25,254.73 L208.42,256.26 L210.58,257.80 L212.75,259.34 L214.91,260.89 L217.08,262.46 L219.24,264.03 L221.41,265.61 L223.57,267.20 L225.74,268.80 L227.90,270.41 L230.06,272.03 L232.23,273.66 L234.39,275.30 L236.56,276.96 L238.72,278.63 L240.89,280.30 L243.05,281.99 L245.22,283.70 L247.38,285.41 L249.55,287.14 L251.71,288.89 L253.87,290.64 L256.04,292.41 L258.20,294.20 L260.37,296.00 L262.53,297.82 L264.70,299.65 L266.86,301.49 L269.03,303.35 L271.19,305.23 L273.36,307.13 L275.52,309.04 L277.68,310.97 L279.85,312.91 L282.01,314.87 L284.18,316.86 L286.34,318.85 L288.51,320.87 L290.67,322.91 L292.84,324.96 L295.00,327.04 L297.17,329.13 L299.33,331.25 L301.49,333.38 L303.66,335.54 L305.82,337.72 L307.99,339.91 L310.15,342.13 L312.32,344.37 L314.48,346.63 L316.65,348.92 L318.81,351.22 L320.98,353.54 L323.14,355.89 L325.30,358.25 L327.47,360.63 L329.63,363.03 L331.80,365.45 L333.96,367.89 L336.13,370.35 L338.29,372.82 L340.46,375.31 L342.62,377.82 L344.78,380.35 L346.95,382.89 L349.11,385.45 L351.28,388.03 L353.44,390.62 L355.61,393.23 L357.77,395.85 L359.94,398.48 L362.10,401.13 L364.27,403.80 L366.43,406.48 L368.59,409.17 L370.76,411.88 L372.92,414.60 L375.09,417.33 L377.25,420.08 L379.42,422.83 L381.58,425.60 L383.75,428.38 L385.91,431.17 L388.08,433.97 L390.24,436.79 L392.40,439.61 L394.57,442.44 L396.73,445.29 L398.90,448.14 L401.06,451.00 L403.23,453.87 L405.39,456.75 L407.56,459.64 L409.72,462.54 L411.89,465.44 L414.05,468.35 L416.21,471.27 L418.38,474.19 L420.54,477.12 L422.71,480.06 L424.87,483.00 L427.04,485.95 L429.20,488.90 L431.37,491.86 L433.53,494.83 L435.70,497.79 L437.86,500.77 L440.02,503.74 L442.19,506.72 L444.35,509.70 L446.52,512.69 L448.68,515.68 L450.85,518.67 L453.01,521.66 L455.18,524.65 L457.34,527.65 L459.51,530.64 L461.67,533.64 L463.83,536.64 L466.00,539.63 L468.16,542.63 L470.33,545.63 L472.49,548.62 L474.66,551.62 L476.82,554.61 L478.99,557.60 L481.15,560.59 L483.32,563.58 L485.48,566.57 L487.64,569.55 L489.81,572.53 L491.97,575.50 L494.14,578.48 L496.30,581.44 L498.47,584.41 L500.63,587.37 L502.80,590.32 L504.96,593.27 L507.13,596.21 L509.29,599.15 L511.45,602.08 L513.62,605.01 L515.78,607.93 L517.95,610.84 L520.11,613.74 L522.28,616.64 L524.44,619.53 L526.61,622.41 L528.77,625.28 L530.94,628.14 L533.10,630.99 L535.26,633.84 L537.43,636.67 L539.59,639.50 L541.76,642.31 L543.92,645.11 L546.09,647.91 L548.25,650.69 L550.42,653.46 L552.58,656.22 L554.75,658.96 L556.91,661.69 L559.07,664.42 L561.24,667.12 L563.40,669.82 L565.57,672.50 L567.73,675.16 L569.90,677.82 L572.06,680.45 L574.23,683.08 L576.39,685.69 L578.56,688.28 L580.72,690.86 L582.88,693.42 L585.05,695.96 L587.21,698.49 L589.38,701.00 L591.54,703.49 L593.71,705.97 L595.87,708.43 L598.04,710.87 L600.20,713.29 L602.37,715.69 L604.53,718.08 L606.69,720.44 L608.86,722.79 L611.02,725.11 L613.19,727.42 L615.35,729.70 L617.52,731.96 L619.68,734.21 L621.85,736.43 L624.01,738.63 L626.18,740.80 L628.34,742.96 L630.50,745.09 L632.67,747.20 L634.83,749.29 L637.00,751.35 L639.16,753.39 L641.33,755.40 L643.49,757.39 L645.66,759.36 L647.82,761.30 L649.99,763.21 L652.15,765.10 L654.31,766.97 L656.48,768.80 L658.64,770.62 L660.81,772.41 L662.97,774.17 L665.14,775.91 L667.30,777.62 L669.47,779.31 L671.63,780.98 L673.80,782.63 L675.96,784.25 L678.12,785.84 L680.29,787.42 L682.45,788.97 L684.62,790.50 L686.78,792.01 L688.95,793.49 L691.11,794.96 L693.28,796.40 L695.44,797.83 L697.61,799.23 L699.77,800.61 L701.93,801.97 L704.10,803.31 L706.26,804.63 L708.43,805.93 L710.59,807.21 L712.76,808.48 L714.92,809.72 L717.09,810.95 L719.25,812.15 L721.42,813.34 L723.58,814.52 L725.74,815.67 L727.91,816.81 L730.07,817.92 L732.24,819.03 L734.40,820.11 L736.57,821.18 L738.73,822.24 L740.90,823.27 L743.06,824.29 L745.23,825.30 L747.39,826.29 L749.55,827.27 L751.72,828.23 L753.88,829.18 L756.05,830.11 L758.21,831.03 L760.38,831.93 L762.54,832.83 L764.71,833.70 L766.87,834.57 L769.03,835.42 L771.20,836.26 L773.36,837.09 L775.53,837.91 L777.69,838.71 L779.86,839.51 L782.02,840.29 L784.19,841.06 L786.35,841.82 L788.52,842.57 L790.68,843.31 L792.84,844.04 L795.01,844.75 L797.17,845.46 L799.34,846.17 L801.50,846.86 L803.67,847.54 L805.83,848.21 L808.00,848.88 L810.16,849.54 L812.33,850.19 L814.49,850.83 L816.65,851.46 L818.82,852.09 L820.98,852.71 L823.15,853.33 L825.31,853.93 L827.48,854.53 L829.64,855.12 L831.81,855.71 L833.97,856.29 L836.14,856.86 L838.30,857.42 L840.46,857.98 L842.63,858.53 L844.79,859.08 L846.96,859.62 L849.12,860.15 L851.29,860.67 L853.45,861.19 L855.62,861.71 L857.78,862.21 L859.95,862.71 L862.11,863.21 L864.27,863.69 L866.44,864.17 L868.60,864.65 L870.77,865.12 L872.93,865.58 L875.10,866.04 L877.26,866.49 L879.43,866.94 L881.59,867.38 L883.76,867.81 L885.92,868.24 L888.08,868.66 L890.25,869.08 L892.41,869.49 L894.58,869.90 L896.74,870.30 L898.91,870.69 L901.07,871.08 L903.24,871.47 L905.40,871.85 L907.57,872.22 L909.73,872.59 L911.89,872.95 L914.06,873.31 L916.22,873.67 L918.39,874.02 L920.55,874.36 L922.72,874.70 L924.88,875.03 L927.05,875.36 L929.21,875.69 L931.38,876.01 L933.54,876.33 L935.70,876.64 L937.87,876.94 L940.03,877.25 L942.20,877.54 L944.36,877.84 L946.53,878.13 L948.69,878.41 L950.86,878.69 L953.02,878.97 L955.19,879.24 L957.35,879.51 L959.51,879.78 L961.68,880.04 L963.84,880.30 L966.01,880.55 L968.17,880.80 L970.34,881.04 L972.50,881.29 L974.67,881.53 L976.83,881.76 L979.00,881.99 L981.16,882.22 L983.32,882.44 L985.49,882.66 L987.65,882.88 L989.82,883.10 L991.98,883.31 L994.15,883.52 L996.31,883.72 L998.48,883.92 L1000.64,884.12 L1002.81,884.32 L1004.97,884.51 L1007.13,884.70 L1009.30,884.89 L1011.46,885.07 L1013.63,885.25 L1015.79,885.43 L1017.96,885.61 L1020.12,885.78 L1022.29,885.95 L1024.45,886.12 L1026.62,886.29 L1028.78,886.45 L1030.94,886.61 L1033.11,886.77 L1035.27,886.93 L1037.44,887.08 L1039.60,887.24 L1041.77,887.39 L1043.93,887.54 L1046.10,887.68 L1048.26,887.83 L1050.43,887.97 L1052.59,888.11 L1054.75,888.25 L1056.92,888.39 L1059.08,888.52 L1061.25,888.66 L1063.41,888.79 L1065.58,888.92 L1067.74,889.05 L1069.91,889.18 L1072.07,889.31 L1074.24,889.43 L1076.40,889.55 L1078.56,889.68 L1080.73,889.80 L1082.89,889.92 L1085.06,890.04 L1087.22,890.16 L1089.39,890.28 L1091.55,890.39 L1093.72,890.51 L1095.88,890.62 L1098.05,890.74 L1100.21,890.85 L1102.37,890.96 L1104.54,891.07 L1106.70,891.19 L1108.87,891.30 L1111.03,891.41 L1113.20,891.52 L1115.36,891.63 L1117.53,891.73 L1119.69,891.84 L1121.86,891.95 L1124.02,892.06 L1126.18,892.17 L1128.35,892.28 L1130.51,892.39 L1132.68,892.49 L1134.84,892.60 L1137.01,892.71 L1139.17,892.82 L1141.34,892.93 L1143.50,893.04 L1145.67,893.15 L1147.83,893.26 L1149.99,893.37 L1152.16,893.48 L1154.32,893.59 L1156.49,893.70 L1158.65,893.81 L1160.82,893.93 L1162.98,894.04 L1165.15,894.15 L1167.31,894.27 L1169.48,894.38 L1171.64,894.50 L1173.80,894.62 L1175.97,894.73 L1178.13,894.85 L1180.30,894.97 L1182.46,895.09 L1184.63,895.21 L1186.79,895.33 L1188.96,895.45 L1191.12,895.57 L1193.28,895.69 L1195.45,895.81 L1197.61,895.93 L1199.78,896.05 L1201.94,896.17 L1204.11,896.30 L1206.27,896.42 L1208.44,896.54 L1210.60,896.66 L1212.77,896.78 L1214.93,896.91 L1217.09,897.03 L1219.26,897.15 L1221.42,897.27 L1223.59,897.40 L1225.75,897.52 L1227.92,897.64 L1230.08,897.76 L1232.25,897.88 L1234.41,898.00 L1236.58,898.13 L1238.74,898.25 L1240.90,898.37 L1243.07,898.49 L1245.23,898.61 L1247.40,898.73 L1249.56,898.85 L1251.73,898.97 L1253.89,899.08 L1256.06,899.20 L1258.22,899.32 L1260.39,899.44 L1262.55,899.55 L1264.71,899.67 L1266.88,899.78 L1269.04,899.90 L1271.21,900.01 L1273.37,900.12 L1275.54,900.24 L1277.70,900.35 L1279.87,900.46 L1282.03,900.57 L1284.20,900.68 L1286.36,900.79 L1288.52,900.89 L1290.69,901.00 L1292.85,901.11 L1295.02,901.21 L1297.18,901.31 L1299.35,901.42 L1301.51,901.52 L1303.68,901.62 L1305.84,901.72 L1308.01,901.82 L1310.17,901.91 L1312.33,902.01 L1314.50,902.10 L1316.66,902.20 L1318.83,902.29 L1320.99,902.38 L1323.16,902.47 L1325.32,902.56 L1327.49,902.65 L1329.65,902.73 L1331.82,902.81 L1333.98,902.90 L1336.14,902.98 L1338.31,903.06 L1340.47,903.14 L1342.64,903.21 L1344.80,903.29 L1346.97,903.36 L1349.13,903.43 L1351.30,903.50 L1353.46,903.57 L1355.63,903.64 L1357.79,903.70 L1359.95,903.76 L1362.12,903.82 L1364.28,903.88 L1366.45,903.94 L1368.61,904.00 L1370.78,904.05 L1372.94,904.10 L1375.11,904.15 L1377.27,904.20 L1379.44,904.24 L1381.60,904.29 L1383.76,904.33 L1385.93,904.37 L1388.09,904.40 L1390.26,904.44 L1392.42,904.47 L1394.59,904.50 L1396.75,904.53 L1398.92,904.56 L1401.08,904.58 L1403.25,904.60 L1405.41,904.62" fill="none" stroke="#00ff00" stroke-width="6.3" stroke-linejoin="round"/><path d="M108.85,194.60 L111.01,195.67 L113.18,196.76 L115.34,197.86 L117.51,198.96 L119.67,200.08 L121.84,201.22 L124.00,202.36 L126.17,203.52 L128.33,204.68 L130.50,205.86 L132.66,207.05 L134.82,208.25 L136.99,209.47 L139.15,210.70 L141.32,211.94 L143.48,213.19 L145.65,214.45 L147.81,215.73 L149.98,217.02 L152.14,218.32 L154.31,219.63 L156.47,220.96 L158.63,222.30 L160.80,223.65 L162.96,225.02 L165.13,226.40 L167.29,227.79 L169.46,229.19 L171.62,230.61 L173.79,232.04 L175.95,233.49 L178.12,234.95 L180.28,236.42 L182.44,237.90 L184.61,239.40 L186.77,240.91 L188.94,242.44 L191.10,243.98 L193.27,245.54 L195.43,247.10 L197.60,248.68 L199.76,250.28 L201.93,251.89 L204.09,253.52 L206.25,255.15 L208.42,256.81 L210.58,258.47 L212.75,260.16 L214.91,261.85 L217.08,263.56 L219.24,265.29 L221.41,267.03 L223.57,268.79 L225.74,270.56 L227.90,272.34 L230.06,274.14 L232.23,275.96 L234.39,277.79 L236.56,279.64 L238.72,281.50 L240.89,283.38 L243.05,285.27 L245.22,287.18 L247.38,289.10 L249.55,291.04 L251.71,292.99 L253.87,294.97 L256.04,296.95 L258.20,298.95 L260.37,300.97 L262.53,303.01 L264.70,305.06 L266.86,307.13 L269.03,309.21 L271.19,311.31 L273.36,313.43 L275.52,315.56 L277.68,317.71 L279.85,319.88 L282.01,322.06 L284.18,324.26 L286.34,326.47 L288.51,328.71 L290.67,330.96 L292.84,333.23 L295.00,335.51 L297.17,337.81 L299.33,340.13 L301.49,342.47 L303.66,344.82 L305.82,347.19 L307.99,349.58 L310.15,351.98 L312.32,354.41 L314.48,356.85 L316.65,359.30 L318.81,361.77 L320.98,364.26 L323.14,366.77 L325.30,369.29 L327.47,371.82 L329.63,374.38 L331.80,376.94 L333.96,379.53 L336.13,382.13 L338.29,384.74 L340.46,387.37 L342.62,390.02 L344.78,392.68 L346.95,395.35 L349.11,398.04 L351.28,400.75 L353.44,403.47 L355.61,406.20 L357.77,408.95 L359.94,411.71 L362.10,414.49 L364.27,417.28 L366.43,420.08 L368.59,422.90 L370.76,425.73 L372.92,428.57 L375.09,431.43 L377.25,434.30 L379.42,437.18 L381.58,440.08 L383.75,442.99 L385.91,445.91 L388.08,448.84 L390.24,451.79 L392.40,454.74 L394.57,457.71 L396.73,460.70 L398.90,463.69 L401.06,466.70 L403.23,469.71 L405.39,472.74 L407.56,475.78 L409.72,478.83 L411.89,481.90 L414.05,484.97 L416.21,488.05 L418.38,491.15 L420.54,494.25 L422.71,497.36 L424.87,500.48 L427.04,503.61 L429.20,506.74 L431.37,509.88 L433.53,513.03 L435.70,516.18 L437.86,519.33 L440.02,522.49 L442.19,525.65 L444.35,528.81 L446.52,531.97 L448.68,535.14 L450.85,538.30 L453.01,541.47 L455.18,544.63 L457.34,547.80 L459.51,550.96 L461.67,554.11 L463.83,557.27 L466.00,560.42 L468.16,563.56 L470.33,566.70 L472.49,569.83 L474.66,572.96 L476.82,576.08 L478.99,579.19 L481.15,582.29 L483.32,585.38 L485.48,588.46 L487.64,591.53 L489.81,594.59 L491.97,597.64 L494.14,600.68 L496.30,603.70 L498.47,606.71 L500.63,609.70 L502.80,612.68 L504.96,615.65 L507.13,618.59 L509.29,621.52 L511.45,624.43 L513.62,627.33 L515.78,630.20 L517.95,633.06 L520.11,635.90 L522.28,638.72 L524.44,641.52 L526.61,644.30 L528.77,647.07 L530.94,649.82 L533.10,652.54 L535.26,655.25 L537.43,657.95 L539.59,660.62 L541.76,663.27 L543.92,665.91 L546.09,668.53 L548.25,671.13 L550.42,673.71 L552.58,676.27 L554.75,678.81 L556.91,681.33 L559.07,683.84 L561.24,686.33 L563.40,688.79 L565.57,691.24 L567.73,693.67 L569.90,696.08 L572.06,698.48 L574.23,700.85 L576.39,703.20 L578.56,705.54 L580.72,707.86 L582.88,710.16 L585.05,712.43 L587.21,714.69 L589.38,716.94 L591.54,719.16 L593.71,721.36 L595.87,723.54 L598.04,725.71 L600.20,727.85 L602.37,729.98 L604.53,732.09 L606.69,734.18 L608.86,736.24 L611.02,738.29 L613.19,740.32 L615.35,742.33 L617.52,744.33 L619.68,746.30 L621.85,748.25 L624.01,750.18 L626.18,752.10 L628.34,753.99 L630.50,755.87 L632.67,757.72 L634.83,759.56 L637.00,761.38 L639.16,763.17 L641.33,764.95 L643.49,766.71 L645.66,768.45 L647.82,770.17 L649.99,771.87 L652.15,773.55 L654.31,775.21 L656.48,776.85 L658.64,778.47 L660.81,780.08 L662.97,781.66 L665.14,783.23 L667.30,784.77 L669.47,786.30 L671.63,787.81 L673.80,789.30 L675.96,790.77 L678.12,792.23 L680.29,793.66 L682.45,795.08 L684.62,796.48 L686.78,797.86 L688.95,799.22 L691.11,800.56 L693.28,801.89 L695.44,803.20 L697.61,804.48 L699.77,805.76 L701.93,807.01 L704.10,808.24 L706.26,809.46 L708.43,810.66 L710.59,811.84 L712.76,813.01 L714.92,814.15 L717.09,815.28 L719.25,816.40 L721.42,817.49 L723.58,818.57 L725.74,819.63 L727.91,820.67 L730.07,821.69 L732.24,822.70 L734.40,823.69 L736.57,824.67 L738.73,825.63 L740.90,826.57 L743.06,827.49 L745.23,828.40 L747.39,829.29 L749.55,830.16 L751.72,831.02 L753.88,831.86 L756.05,832.68 L758.21,833.49 L760.38,834.28 L762.54,835.06 L764.71,835.82 L766.87,836.56 L769.03,837.29 L771.20,838.01 L773.36,838.72 L775.53,839.41 L777.69,840.09 L779.86,840.75 L782.02,841.41 L784.19,842.05 L786.35,842.68 L788.52,843.30 L790.68,843.92 L792.84,844.52 L795.01,845.12 L797.17,845.70 L799.34,846.28 L801.50,846.85 L803.67,847.41 L805.83,847.97 L808.00,848.52 L810.16,849.06 L812.33,849.60 L814.49,850.14 L816.65,850.67 L818.82,851.19 L820.98,851.71 L823.15,852.23 L825.31,852.74 L827.48,853.25 L829.64,853.76 L831.81,854.26 L833.97,854.75 L836.14,855.25 L838.30,855.73 L840.46,856.22 L842.63,856.70 L844.79,857.17 L846.96,857.65 L849.12,858.11 L851.29,858.58 L853.45,859.04 L855.62,859.49 L857.78,859.95 L859.95,860.39 L862.11,860.84 L864.27,861.28 L866.44,861.72 L868.60,862.15 L870.77,862.58 L872.93,863.00 L875.10,863.43 L877.26,863.84 L879.43,864.26 L881.59,864.67 L883.76,865.08 L885.92,865.48 L888.08,865.88 L890.25,866.27 L892.41,866.67 L894.58,867.06 L896.74,867.44 L898.91,867.82 L901.07,868.20 L903.24,868.58 L905.40,868.95 L907.57,869.32 L909.73,869.68 L911.89,870.04 L914.06,870.40 L916.22,870.75 L918.39,871.11 L920.55,871.45 L922.72,871.80 L924.88,872.14 L927.05,872.48 L929.21,872.81 L931.38,873.14 L933.54,873.47 L935.70,873.80 L937.87,874.12 L940.03,874.44 L942.20,874.76 L944.36,875.07 L946.53,875.38 L948.69,875.68 L950.86,875.99 L953.02,876.29 L955.19,876.59 L957.35,876.88 L959.51,877.17 L961.68,877.46 L963.84,877.75 L966.01,878.03 L968.17,878.31 L970.34,878.59 L972.50,878.86 L974.67,879.13 L976.83,879.40 L979.00,879.67 L981.16,879.93 L983.32,880.19 L985.49,880.45 L987.65,880.71 L989.82,880.96 L991.98,881.21 L994.15,881.46 L996.31,881.70 L998.48,881.95 L1000.64,882.18 L1002.81,882.42 L1004.97,882.66 L1007.13,882.89 L1009.30,883.12 L1011.46,883.35 L1013.63,883.57 L1015.79,883.79 L1017.96,884.01 L1020.12,884.23 L1022.29,884.45 L1024.45,884.66 L1026.62,884.87 L1028.78,885.08 L1030.94,885.28 L1033.11,885.49 L1035.27,885.69 L1037.44,885.89 L1039.60,886.09 L1041.77,886.28 L1043.93,886.47 L1046.10,886.66 L1048.26,886.85 L1050.43,887.04 L1052.59,887.22 L1054.75,887.41 L1056.92,887.59 L1059.08,887.77 L1061.25,887.94 L1063.41,888.12 L1065.58,888.29 L1067.74,888.46 L1069.91,888.63 L1072.07,888.79 L1074.24,888.96 L1076.40,889.12 L1078.56,889.28 L1080.73,889.44 L1082.89,889.60 L1085.06,889.76 L1087.22,889.91 L1089.39,890.06 L1091.55,890.21 L1093.72,890.36 L1095.88,890.51 L1098.05,890.66 L1100.21,890.80 L1102.37,890.94 L1104.54,891.08 L1106.70,891.22 L1108.87,891.36 L1111.03,891.50 L1113.20,891.63 L1115.36,891.77 L1117.53,891.90 L1119.69,892.03 L1121.86,892.16 L1124.02,892.28 L1126.18,892.41 L1128.35,892.54 L1130.51,892.66 L1132.68,892.78 L1134.84,892.90 L1137.01,893.02 L1139.17,893.14 L1141.34,893.26 L1143.50,893.37 L1145.67,893.49 L1147.83,893.60 L1149.99,893.71 L1152.16,893.83 L1154.32,893.94 L1156.49,894.05 L1158.65,894.15 L1160.82,894.26 L1162.98,894.37 L1165.15,894.47 L1167.31,894.58 L1169.48,894.68 L1171.64,894.78 L1173.80,894.88 L1175.97,894.98 L1178.13,895.08 L1180.30,895.18 L1182.46,895.28 L1184.63,895.37 L1186.79,895.47 L1188.96,895.57 L1191.12,895.66 L1193.28,895.75 L1195.45,895.85 L1197.61,895.94 L1199.78,896.03 L1201.94,896.12 L1204.11,896.21 L1206.27,896.30 L1208.44,896.39 L1210.60,896.48 L1212.77,896.57 L1214.93,896.65 L1217.09,896.74 L1219.26,896.83 L1221.42,896.91 L1223.59,897.00 L1225.75,897.08 L1227.92,897.17 L1230.08,897.25 L1232.25,897.34 L1234.41,897.42 L1236.58,897.50 L1238.74,897.59 L1240.90,897.67 L1243.07,897.75 L1245.23,897.83 L1247.40,897.91 L1249.56,898.00 L1251.73,898.08 L1253.89,898.16 L1256.06,898.24 L1258.22,898.32 L1260.39,898.40 L1262.55,898.48 L1264.71,898.56 L1266.88,898.64 L1269.04,898.72 L1271.21,898.80 L1273.37,898.88 L1275.54,898.96 L1277.70,899.05 L1279.87,899.13 L1282.03,899.21 L1284.20,899.29 L1286.36,899.37 L1288.52,899.45 L1290.69,899.53 L1292.85,899.61 L1295.02,899.69 L1297.18,899.78 L1299.35,899.86 L1301.51,899.94 L1303.68,900.02 L1305.84,900.11 L1308.01,900.19 L1310.17,900.27 L1312.33,900.36 L1314.50,900.44 L1316.66,900.53 L1318.83,900.61 L1320.99,900.70 L1323.16,900.79 L1325.32,900.87 L1327.49,900.96 L1329.65,901.05 L1331.82,901.14 L1333.98,901.22 L1336.14,901.31 L1338.31,901.40 L1340.47,901.50 L1342.64,901.59 L1344.80,901.68 L1346.97,901.77 L1349.13,901.87 L1351.30,901.96 L1353.46,902.06 L1355.63,902.15 L1357.79,902.25 L1359.95,902.35 L1362.12,902.44 L1364.28,902.54 L1366.45,902.64 L1368.61,902.75 L1370.78,902.85 L1372.94,902.95 L1375.11,903.05 L1377.27,903.16 L1379.44,903.26 L1381.60,903.37 L1383.76,903.48 L1385.93,903.59 L1388.09,903.70 L1390.26,903.81 L1392.42,903.92 L1394.59,904.04 L1396.75,904.15 L1398.92,904.27 L1401.08,904.38 L1403.25,904.50 L1405.41,904.62" fill="none" stroke="#bf00bf" stroke-width="6.3" stroke-linejoin="round"/><path d="M108.85,194.60 L111.01,195.63 L113.18,196.68 L115.34,197.73 L117.51,198.80 L119.67,199.89 L121.84,200.99 L124.00,202.10 L126.17,203.22 L128.33,204.36 L130.50,205.52 L132.66,206.68 L134.82,207.87 L136.99,209.06 L139.15,210.27 L141.32,211.50 L143.48,212.74 L145.65,214.00 L147.81,215.27 L149.98,216.55 L152.14,217.85 L154.31,219.17 L156.47,220.50 L158.63,221.85 L160.80,223.21 L162.96,224.59 L165.13,225.99 L167.29,227.40 L169.46,228.83 L171.62,230.27 L173.79,231.73 L175.95,233.21 L178.12,234.70 L180.28,236.21 L182.44,237.74 L184.61,239.29 L186.77,240.85 L188.94,242.43 L191.10,244.02 L193.27,245.64 L195.43,247.27 L197.60,248.92 L199.76,250.58 L201.93,252.27 L204.09,253.97 L206.25,255.69 L208.42,257.42 L210.58,259.18 L212.75,260.95 L214.91,262.74 L217.08,264.54 L219.24,266.36 L221.41,268.20 L223.57,270.06 L225.74,271.94 L227.90,273.83 L230.06,275.74 L232.23,277.67 L234.39,279.61 L236.56,281.58 L238.72,283.56 L240.89,285.55 L243.05,287.57 L245.22,289.60 L247.38,291.65 L249.55,293.72 L251.71,295.80 L253.87,297.90 L256.04,300.02 L258.20,302.16 L260.37,304.32 L262.53,306.49 L264.70,308.68 L266.86,310.88 L269.03,313.11 L271.19,315.35 L273.36,317.61 L275.52,319.89 L277.68,322.18 L279.85,324.49 L282.01,326.82 L284.18,329.17 L286.34,331.54 L288.51,333.92 L290.67,336.32 L292.84,338.73 L295.00,341.17 L297.17,343.62 L299.33,346.09 L301.49,348.58 L303.66,351.08 L305.82,353.61 L307.99,356.15 L310.15,358.70 L312.32,361.28 L314.48,363.87 L316.65,366.48 L318.81,369.11 L320.98,371.76 L323.14,374.42 L325.30,377.10 L327.47,379.80 L329.63,382.51 L331.80,385.25 L333.96,388.00 L336.13,390.77 L338.29,393.55 L340.46,396.36 L342.62,399.18 L344.78,402.02 L346.95,404.87 L349.11,407.75 L351.28,410.64 L353.44,413.55 L355.61,416.47 L357.77,419.42 L359.94,422.38 L362.10,425.36 L364.27,428.35 L366.43,431.36 L368.59,434.38 L370.76,437.42 L372.92,440.47 L375.09,443.54 L377.25,446.62 L379.42,449.71 L381.58,452.81 L383.75,455.92 L385.91,459.04 L388.08,462.17 L390.24,465.32 L392.40,468.47 L394.57,471.63 L396.73,474.79 L398.90,477.97 L401.06,481.15 L403.23,484.34 L405.39,487.53 L407.56,490.73 L409.72,493.93 L411.89,497.14 L414.05,500.35 L416.21,503.57 L418.38,506.78 L420.54,510.00 L422.71,513.22 L424.87,516.44 L427.04,519.67 L429.20,522.89 L431.37,526.11 L433.53,529.33 L435.70,532.55 L437.86,535.76 L440.02,538.97 L442.19,542.18 L444.35,545.39 L446.52,548.59 L448.68,551.79 L450.85,554.98 L453.01,558.16 L455.18,561.34 L457.34,564.51 L459.51,567.68 L461.67,570.84 L463.83,573.99 L466.00,577.13 L468.16,580.26 L470.33,583.38 L472.49,586.49 L474.66,589.60 L476.82,592.69 L478.99,595.77 L481.15,598.85 L483.32,601.91 L485.48,604.95 L487.64,607.99 L489.81,611.01 L491.97,614.02 L494.14,617.02 L496.30,620.00 L498.47,622.97 L500.63,625.92 L502.80,628.86 L504.96,631.78 L507.13,634.69 L509.29,637.58 L511.45,640.46 L513.62,643.31 L515.78,646.15 L517.95,648.97 L520.11,651.78 L522.28,654.56 L524.44,657.33 L526.61,660.07 L528.77,662.80 L530.94,665.51 L533.10,668.19 L535.26,670.85 L537.43,673.50 L539.59,676.12 L541.76,678.72 L543.92,681.29 L546.09,683.85 L548.25,686.38 L550.42,688.88 L552.58,691.36 L554.75,693.82 L556.91,696.25 L559.07,698.66 L561.24,701.04 L563.40,703.40 L565.57,705.73 L567.73,708.04 L569.90,710.33 L572.06,712.59 L574.23,714.83 L576.39,717.04 L578.56,719.23 L580.72,721.40 L582.88,723.54 L585.05,725.66 L587.21,727.76 L589.38,729.84 L591.54,731.89 L593.71,733.92 L595.87,735.92 L598.04,737.91 L600.20,739.87 L602.37,741.81 L604.53,743.73 L606.69,745.62 L608.86,747.50 L611.02,749.35 L613.19,751.18 L615.35,752.99 L617.52,754.78 L619.68,756.55 L621.85,758.30 L624.01,760.02 L626.18,761.73 L628.34,763.41 L630.50,765.08 L632.67,766.72 L634.83,768.35 L637.00,769.95 L639.16,771.54 L641.33,773.10 L643.49,774.65 L645.66,776.18 L647.82,777.68 L649.99,779.17 L652.15,780.64 L654.31,782.09 L656.48,783.52 L658.64,784.94 L660.81,786.33 L662.97,787.71 L665.14,789.07 L667.30,790.41 L669.47,791.73 L671.63,793.03 L673.80,794.32 L675.96,795.59 L678.12,796.84 L680.29,798.08 L682.45,799.30 L684.62,800.50 L686.78,801.68 L688.95,802.85 L691.11,804.00 L693.28,805.14 L695.44,806.26 L697.61,807.36 L699.77,808.45 L701.93,809.52 L704.10,810.57 L706.26,811.61 L708.43,812.64 L710.59,813.65 L712.76,814.65 L714.92,815.63 L717.09,816.60 L719.25,817.55 L721.42,818.49 L723.58,819.41 L725.74,820.32 L727.91,821.22 L730.07,822.10 L732.24,822.97 L734.40,823.83 L736.57,824.67 L738.73,825.51 L740.90,826.32 L743.06,827.13 L745.23,827.92 L747.39,828.71 L749.55,829.47 L751.72,830.23 L753.88,830.98 L756.05,831.71 L758.21,832.43 L760.38,833.15 L762.54,833.85 L764.71,834.54 L766.87,835.22 L769.03,835.88 L771.20,836.54 L773.36,837.19 L775.53,837.83 L777.69,838.46 L779.86,839.07 L782.02,839.68 L784.19,840.28 L786.35,840.87 L788.52,841.45 L790.68,842.02 L792.84,842.59 L795.01,843.14 L797.17,843.69 L799.34,844.22 L801.50,844.75 L803.67,845.27 L805.83,845.79 L808.00,846.29 L810.16,846.79 L812.33,847.28 L814.49,847.77 L816.65,848.24 L818.82,848.71 L820.98,849.18 L823.15,849.63 L825.31,850.08 L827.48,850.53 L829.64,850.97 L831.81,851.40 L833.97,851.82 L836.14,852.25 L838.30,852.66 L840.46,853.07 L842.63,853.48 L844.79,853.88 L846.96,854.27 L849.12,854.67 L851.29,855.05 L853.45,855.44 L855.62,855.81 L857.78,856.19 L859.95,856.56 L862.11,856.93 L864.27,857.29 L866.44,857.65 L868.60,858.01 L870.77,858.36 L872.93,858.72 L875.10,859.06 L877.26,859.41 L879.43,859.76 L881.59,860.10 L883.76,860.44 L885.92,860.78 L888.08,861.11 L890.25,861.45 L892.41,861.78 L894.58,862.11 L896.74,862.44 L898.91,862.76 L901.07,863.09 L903.24,863.41 L905.40,863.73 L907.57,864.05 L909.73,864.36 L911.89,864.68 L914.06,864.99 L916.22,865.30 L918.39,865.61 L920.55,865.92 L922.72,866.22 L924.88,866.52 L927.05,866.82 L929.21,867.12 L931.38,867.42 L933.54,867.72 L935.70,868.01 L937.87,868.30 L940.03,868.59 L942.20,868.88 L944.36,869.17 L946.53,869.45 L948.69,869.73 L950.86,870.01 L953.02,870.29 L955.19,870.57 L957.35,870.85 L959.51,871.12 L961.68,871.39 L963.84,871.66 L966.01,871.93 L968.17,872.20 L970.34,872.46 L972.50,872.73 L974.67,872.99 L976.83,873.25 L979.00,873.51 L981.16,873.76 L983.32,874.02 L985.49,874.27 L987.65,874.53 L989.82,874.78 L991.98,875.02 L994.15,875.27 L996.31,875.52 L998.48,875.76 L1000.64,876.01 L1002.81,876.25 L1004.97,876.49 L1007.13,876.72 L1009.30,876.96 L1011.46,877.20 L1013.63,877.43 L1015.79,877.66 L1017.96,877.89 L1020.12,878.12 L1022.29,878.35 L1024.45,878.57 L1026.62,878.80 L1028.78,879.02 L1030.94,879.24 L1033.11,879.47 L1035.27,879.68 L1037.44,879.90 L1039.60,880.12 L1041.77,880.33 L1043.93,880.55 L1046.10,880.76 L1048.26,880.97 L1050.43,881.18 L1052.59,881.39 L1054.75,881.60 L1056.92,881.80 L1059.08,882.01 L1061.25,882.21 L1063.41,882.41 L1065.58,882.61 L1067.74,882.81 L1069.91,883.01 L1072.07,883.20 L1074.24,883.40 L1076.40,883.59 L1078.56,883.79 L1080.73,883.98 L1082.89,884.17 L1085.06,884.36 L1087.22,884.55 L1089.39,884.73 L1091.55,884.92 L1093.72,885.11 L1095.88,885.29 L1098.05,885.47 L1100.21,885.65 L1102.37,885.83 L1104.54,886.01 L1106.70,886.19 L1108.87,886.37 L1111.03,886.54 L1113.20,886.72 L1115.36,886.89 L1117.53,887.07 L1119.69,887.24 L1121.86,887.41 L1124.02,887.58 L1126.18,887.75 L1128.35,887.92 L1130.51,888.08 L1132.68,888.25 L1134.84,888.41 L1137.01,888.58 L1139.17,888.74 L1141.34,888.90 L1143.50,889.06 L1145.67,889.22 L1147.83,889.38 L1149.99,889.54 L1152.16,889.70 L1154.32,889.86 L1156.49,890.01 L1158.65,890.17 L1160.82,890.32 L1162.98,890.47 L1165.15,890.63 L1167.31,890.78 L1169.48,890.93 L1171.64,891.08 L1173.80,891.23 L1175.97,891.38 L1178.13,891.52 L1180.30,891.67 L1182.46,891.82 L1184.63,891.96 L1186.79,892.11 L1188.96,892.25 L1191.12,892.40 L1193.28,892.54 L1195.45,892.68 L1197.61,892.82 L1199.78,892.96 L1201.94,893.10 L1204.11,893.24 L1206.27,893.38 L1208.44,893.52 L1210.60,893.65 L1212.77,893.79 L1214.93,893.93 L1217.09,894.06 L1219.26,894.20 L1221.42,894.33 L1223.59,894.46 L1225.75,894.60 L1227.92,894.73 L1230.08,894.86 L1232.25,894.99 L1234.41,895.12 L1236.58,895.25 L1238.74,895.38 L1240.90,895.51 L1243.07,895.64 L1245.23,895.77 L1247.40,895.90 L1249.56,896.03 L1251.73,896.15 L1253.89,896.28 L1256.06,896.41 L1258.22,896.53 L1260.39,896.66 L1262.55,896.78 L1264.71,896.91 L1266.88,897.03 L1269.04,897.16 L1271.21,897.28 L1273.37,897.40 L1275.54,897.52 L1277.70,897.65 L1279.87,897.77 L1282.03,897.89 L1284.20,898.01 L1286.36,898.13 L1288.52,898.25 L1290.69,898.37 L1292.85,898.50 L1295.02,898.62 L1297.18,898.74 L1299.35,898.85 L1301.51,898.97 L1303.68,899.09 L1305.84,899.21 L1308.01,899.33 L1310.17,899.45 L1312.33,899.57 L1314.50,899.69 L1316.66,899.80 L1318.83,899.92 L1320.99,900.04 L1323.16,900.16 L1325.32,900.27 L1327.49,900.39 L1329.65,900.51 L1331.82,900.63 L1333.98,900.74 L1336.14,900.86 L1338.31,900.98 L1340.47,901.09 L1342.64,901.21 L1344.80,901.33 L1346.97,901.44 L1349.13,901.56 L1351.30,901.68 L1353.46,901.80 L1355.63,901.91 L1357.79,902.03 L1359.95,902.15 L1362.12,902.26 L1364.28,902.38 L1366.45,902.50 L1368.61,902.61 L1370.78,902.73 L1372.94,902.85 L1375.11,902.96 L1377.27,903.08 L1379.44,903.20 L1381.60,903.32 L1383.76,903.43 L1385.93,903.55 L1388.09,903.67 L1390.26,903.79 L1392.42,903.91 L1394.59,904.03 L1396.75,904.14 L1398.92,904.26 L1401.08,904.38 L1403.25,904.50 L1405.41,904.62" fill="none" stroke="#00ffff" stroke-width="6.3" stroke-linejoin="round"/></g>
<g id="arrow"><line x1="654" y1="488.2" x2="555.6" y2="817" stroke="#000" stroke-width="1.5"/><polygon points="549.5,836.3 547,806.6 555.4,817.4 568,812.5" fill="#000" stroke="#000" stroke-width="1" stroke-linejoin="round"/></g>
<rect id="legbox" x="1099" y="63.6" width="293" height="281.4" fill="#fff"/>
<g id="axes" stroke="#7f7f7f" stroke-width="1.8" fill="none"><rect x="108.85" y="62.70" width="1296.56" height="982.24"/></g>
<g id="ticks" stroke="#5e5e5e" stroke-width="1.4"><line x1="270.92" y1="1044.94" x2="270.92" y2="1031.94"/><line x1="270.92" y1="62.70" x2="270.92" y2="75.70"/><line x1="432.99" y1="1044.94" x2="432.99" y2="1031.94"/><line x1="432.99" y1="62.70" x2="432.99" y2="75.70"/><line x1="595.06" y1="1044.94" x2="595.06" y2="1031.94"/><line x1="595.06" y1="62.70" x2="595.06" y2="75.70"/><line x1="757.13" y1="1044.94" x2="757.13" y2="1031.94"/><line x1="757.13" y1="62.70" x2="757.13" y2="75.70"/><line x1="919.20" y1="1044.94" x2="919.20" y2="1031.94"/><line x1="919.20" y1="62.70" x2="919.20" y2="75.70"/><line x1="1081.27" y1="1044.94" x2="1081.27" y2="1031.94"/><line x1="1081.27" y1="62.70" x2="1081.27" y2="75.70"/><line x1="1243.34" y1="1044.94" x2="1243.34" y2="1031.94"/><line x1="1243.34" y1="62.70" x2="1243.34" y2="75.70"/><line x1="108.85" y1="203.02" x2="121.85" y2="203.02"/><line x1="1405.41" y1="203.02" x2="1392.41" y2="203.02"/><line x1="108.85" y1="343.34" x2="121.85" y2="343.34"/><line x1="1405.41" y1="343.34" x2="1392.41" y2="343.34"/><line x1="108.85" y1="483.66" x2="121.85" y2="483.66"/><line x1="1405.41" y1="483.66" x2="1392.41" y2="483.66"/><line x1="108.85" y1="623.98" x2="121.85" y2="623.98"/><line x1="1405.41" y1="623.98" x2="1392.41" y2="623.98"/><line x1="108.85" y1="764.30" x2="121.85" y2="764.30"/><line x1="1405.41" y1="764.30" x2="1392.41" y2="764.30"/><line x1="108.85" y1="904.62" x2="121.85" y2="904.62"/><line x1="1405.41" y1="904.62" x2="1392.41" y2="904.62"/></g>
<g id="legend"><path d="M1108.9,96.00 H1195.7" stroke="#00ff00" stroke-width="6.2" stroke-dasharray="21.4 20.2"/><path d="M1108.9,128.60 H1195.7" stroke="#ff0000" stroke-width="6.2" stroke-dasharray="21.4 20.2"/><path d="M1108.9,161.20 H1195.7" stroke="#000000" stroke-width="6.2" stroke-dasharray="21.4 20.2"/><path d="M1108.9,193.80 H1195.7" stroke="#00ffff" stroke-width="6.2" stroke-dasharray="21.4 20.2"/><path d="M1108.9,226.40 H1195.7" stroke="#ff0000" stroke-width="6.2"/><path d="M1108.9,259.00 H1195.7" stroke="#00ff00" stroke-width="6.2"/><path d="M1108.9,291.60 H1195.7" stroke="#bf00bf" stroke-width="6.2"/><path d="M1108.9,324.20 H1195.7" stroke="#00ffff" stroke-width="6.2"/></g>
<g id="yt0" transform="matrix(1.19643,0,0,1.06667,-17.461,-3.833)"><text class="tk" x="96" y="70.70" text-anchor="end">1.2</text></g>
<g id="yt1" transform="matrix(1.05556,0,0,1.00667,-4.722,-1.307)"><text class="tk" x="96" y="211.02" text-anchor="end">1</text></g>
<g id="yt2" transform="matrix(1.24138,0,0,1.10000,-22.872,-33.600)"><text class="tk" x="96" y="351.34" text-anchor="end">0.8</text></g>
<g id="yt3" transform="matrix(1.25172,0,0,1.10000,-23.566,-48.300)"><text class="tk" x="96" y="491.66" text-anchor="end">0.6</text></g>
<g id="yt4" transform="matrix(1.33214,0,0,1.08667,-29.054,-53.473)"><text class="tk" x="96" y="631.98" text-anchor="end">0.4</text></g>
<g id="yt5" transform="matrix(1.32500,0,0,1.08667,-28.575,-65.407)"><text class="tk" x="96" y="772.30" text-anchor="end">0.2</text></g>
<g id="yt6" transform="matrix(1.35455,0,0,1.08000,-32.136,-71.840)"><text class="tk" x="96" y="912.62" text-anchor="end">0</text></g>
<g id="yt7" transform="matrix(1.30556,0,0,1.08000,-27.528,-82.640)"><text class="tk" x="96" y="1052.94" text-anchor="end">-0.2</text></g>
<g id="xt0" transform="matrix(1.48000,0,0,1.08000,-53.200,-87.040)"><text class="tk" x="109.85" y="1082.5" text-anchor="middle">0</text></g>
<g id="xt1" transform="matrix(1.10000,0,0,1.08000,-27.500,-87.040)"><text class="tk" x="271.92" y="1082.5" text-anchor="middle">1</text></g>
<g id="xt2" transform="matrix(1.21818,0,0,1.08000,-94.082,-87.040)"><text class="tk" x="433.99" y="1082.5" text-anchor="middle">2</text></g>
<g id="xt3" transform="matrix(1.21818,0,0,1.08000,-129.527,-87.040)"><text class="tk" x="596.06" y="1082.5" text-anchor="middle">3</text></g>
<g id="xt4" transform="matrix(1.17500,0,0,1.08000,-132.700,-87.040)"><text class="tk" x="758.13" y="1082.5" text-anchor="middle">4</text></g>
<g id="xt5" transform="matrix(1.27273,0,0,1.08000,-252.045,-87.040)"><text class="tk" x="920.20" y="1082.5" text-anchor="middle">5</text></g>
<g id="xt6" transform="matrix(1.31818,0,0,1.08000,-344.682,-87.040)"><text class="tk" x="1082.27" y="1082.5" text-anchor="middle">6</text></g>
<g id="xt7" transform="matrix(1.27273,0,0,1.08000,-339.682,-87.040)"><text class="tk" x="1244.34" y="1082.5" text-anchor="middle">7</text></g>
<g id="xt8" transform="matrix(1.18182,0,0,1.08000,-255.727,-87.040)"><text class="tk" x="1406.41" y="1082.5" text-anchor="middle">8</text></g>
<g id="xlab" transform="matrix(1.10714,0,0,0.94783,-81.357,59.452)"><text class="ttl" x="757" y="1121" text-anchor="middle" font-style="italic">η</text></g>
<g id="ylab" transform="matrix(1.07419,0,0,1.01731,-3.245,-9.638)"><text class="ttl" transform="translate(30,554) rotate(-90)" text-anchor="middle"><tspan font-style="italic">θ</tspan>(<tspan font-style="italic">η</tspan>)</text></g>
<g id="tt1" transform="matrix(1.05532,0,0,1.00690,-34.128,-0.941)"><text class="ttl" x="587" y="27.7">Injection Case</text></g>
<g id="tt2" transform="matrix(1.16822,0,0,1.04194,-136.148,-0.968)"><text class="ttl" x="800" y="27.7">(<tspan font-style="italic">f</tspan><tspan font-style="italic" font-size="23" dy="5">w</tspan><tspan dy="-5"> = -1)</tspan></text></g>
<g id="lg0" transform="matrix(1.09015,0,0,1.03182,-109.142,-2.473)"><text class="lg" x="1203" y="102.20">M=0.1, N=1</text></g>
<g id="lg1" transform="matrix(1.09015,0,0,1.03182,-109.142,-3.923)"><text class="lg" x="1203" y="134.80">M=0.2, N=1</text></g>
<g id="lg2" transform="matrix(1.09015,0,0,1.03182,-109.142,-4.341)"><text class="lg" x="1203" y="167.40">M=0.3, N=1</text></g>
<g id="lg3" transform="matrix(1.09015,0,0,1.03182,-109.142,-5.791)"><text class="lg" x="1203" y="200.00">M=0.4, N=1</text></g>
<g id="lg4" transform="matrix(1.08133,0,0,1.03182,-98.516,-7.241)"><text class="lg" x="1203" y="232.60">M=0.1, N=0.85</text></g>
<g id="lg5" transform="matrix(1.08133,0,0,1.03182,-98.516,-7.659)"><text class="lg" x="1203" y="265.20">M=0.2, N=0.85</text></g>
<g id="lg6" transform="matrix(1.08133,0,0,1.03182,-98.516,-9.109)"><text class="lg" x="1203" y="297.80">M=0.3, N=0.85</text></g>
<g id="lg7" transform="matrix(1.08133,0,0,1.03182,-98.516,-9.527)"><text class="lg" x="1203" y="330.40">M=0.4, N=0.85</text></g>
</svg></body></html>
